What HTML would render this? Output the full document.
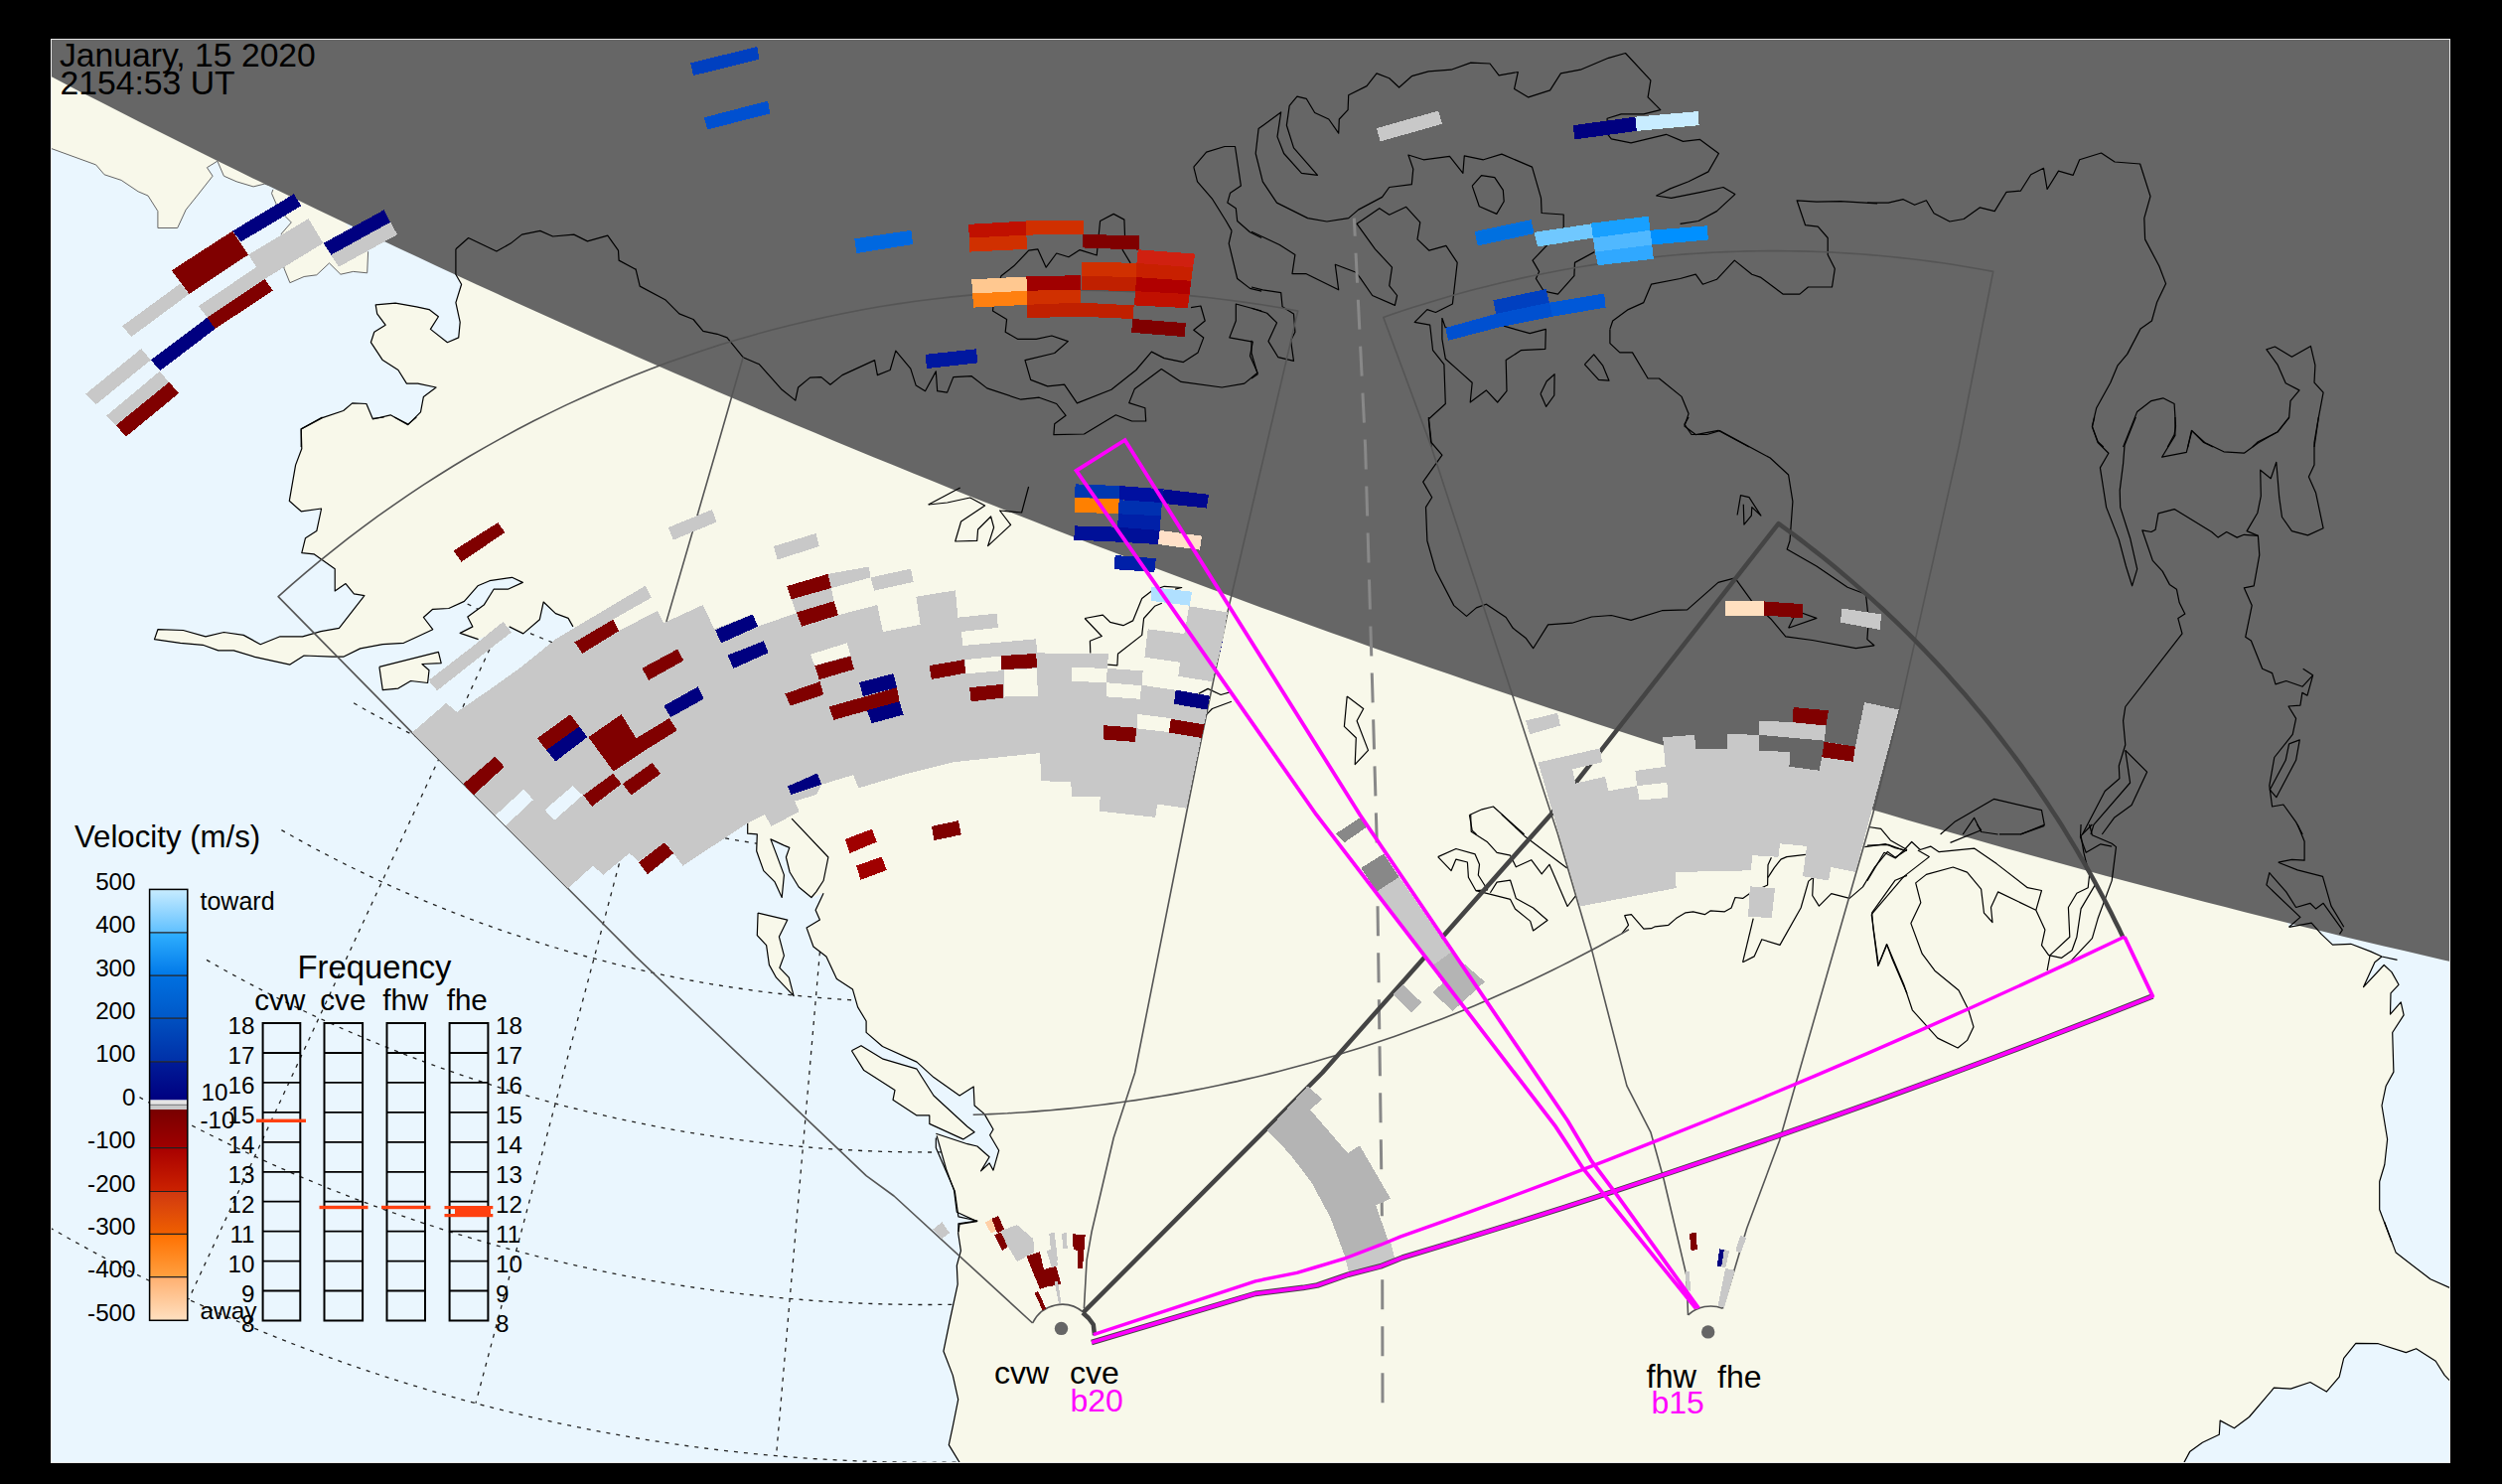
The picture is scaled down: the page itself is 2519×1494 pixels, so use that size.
<!DOCTYPE html>
<html><head><meta charset="utf-8"><style>
html,body{margin:0;padding:0;background:#000;width:2519px;height:1494px;overflow:hidden}
svg{display:block}
text{font-family:"Liberation Sans",sans-serif}
</style></head><body>
<svg xmlns="http://www.w3.org/2000/svg" width="2519" height="1494" viewBox="0 0 2519 1494">
<defs><clipPath id="mc"><rect x="51" y="39" width="2416" height="1434"/></clipPath></defs>
<rect width="2519" height="1494" fill="#000"/>
<rect x="51" y="39" width="2416" height="1434" fill="#fff"/>
<g clip-path="url(#mc)">
<rect x="52" y="40" width="2414" height="1432" fill="#eaf6fe"/>
<g fill="none" stroke="#222" stroke-width="1.3" stroke-dasharray="4 6">
<polyline points="461.8,603.4 463.0,604.0 464.2,604.7 465.4,605.3 466.6,605.9 467.8,606.5 469.0,607.1 470.2,607.8 471.4,608.4 472.7,609.0 473.9,609.6 475.1,610.2 476.3,610.8 477.5,611.4 478.7,612.1 479.9,612.7 481.2,613.3 482.4,613.9 483.6,614.5 484.8,615.1 486.0,615.7 487.2,616.3 488.5,616.9 489.7,617.5 490.9,618.0 492.1,618.6 493.4,619.2 494.6,619.8 495.8,620.4 497.0,621.0 498.3,621.6 499.5,622.1 500.7,622.7 501.9,623.3 503.2,623.9 504.4,624.4 505.6,625.0 506.9,625.6 508.1,626.2 509.3,626.7 510.6,627.3 511.8,627.9 513.1,628.4 514.3,629.0 515.5,629.5 516.8,630.1 518.0,630.7 519.2,631.2 520.5,631.8 521.7,632.3 523.0,632.9 524.2,633.4 525.5,634.0 526.7,634.5 527.9,635.0 529.2,635.6 530.4,636.1 531.7,636.7 532.9,637.2 534.2,637.7 535.4,638.3 536.7,638.8 537.9,639.3 539.2,639.8 540.4,640.4 541.7,640.9 542.9,641.4 544.2,641.9 545.5,642.5 546.7,643.0 548.0,643.5 549.2,644.0 550.5,644.5 551.7,645.0 553.0,645.5 554.3,646.0 555.5,646.6 556.8,647.1 558.0,647.6 559.3,648.1 560.6,648.6"/>
<polyline points="356.1,707.8 360.9,710.5 365.7,713.3 370.5,715.9 375.3,718.6 380.1,721.2 385.0,723.8 389.8,726.4 394.7,729.0 399.6,731.6 404.5,734.1 409.4,736.6 414.3,739.1 419.2,741.5 424.2,743.9 429.1,746.3 434.1,748.7 439.0,751.1 444.0,753.4 449.0,755.7 454.0,758.0 459.0,760.3 464.1,762.5 469.1,764.7 474.2,766.9 479.2,769.1 484.3,771.2 489.4,773.4 494.5,775.5 499.6,777.5 504.7,779.6 509.8,781.6 514.9,783.6 520.0,785.6 525.2,787.5 530.4,789.5 535.5,791.4 540.7,793.2 545.9,795.1 551.1,796.9 556.3,798.7 561.5,800.5 566.7,802.3 571.9,804.0 577.1,805.7 582.4,807.4 587.6,809.0 592.9,810.7 598.2,812.3 603.4,813.8 608.7,815.4 614.0,816.9 619.3,818.4 624.6,819.9 629.9,821.4 635.2,822.8 640.5,824.2 645.9,825.6 651.2,826.9 656.5,828.3 661.9,829.6 667.2,830.8 672.6,832.1 678.0,833.3 683.3,834.5 688.7,835.7 694.1,836.9 699.5,838.0 704.9,839.1 710.3,840.2 715.7,841.2 721.1,842.2 726.5,843.2 731.9,844.2 737.3,845.2 742.8,846.1 748.2,847.0 753.6,847.8 759.1,848.7 764.5,849.5 770.0,850.3"/>
<polyline points="283.4,835.6 290.1,839.4 296.8,843.2 303.6,846.9 310.3,850.6 317.1,854.3 323.9,857.9 330.8,861.5 337.6,865.0 344.5,868.5 351.4,872.0 358.3,875.4 365.3,878.7 372.2,882.1 379.2,885.4 386.2,888.6 393.2,891.8 400.2,895.0 407.3,898.1 414.3,901.2 421.4,904.3 428.5,907.3 435.6,910.2 442.8,913.1 449.9,916.0 457.1,918.8 464.3,921.6 471.5,924.4 478.7,927.1 486.0,929.8 493.2,932.4 500.5,935.0 507.8,937.5 515.1,940.0 522.4,942.4 529.7,944.8 537.0,947.2 544.4,949.5 551.8,951.8 559.2,954.0 566.5,956.2 574.0,958.4 581.4,960.5 588.8,962.5 596.3,964.5 603.7,966.5 611.2,968.4 618.7,970.3 626.1,972.2 633.6,974.0 641.2,975.7 648.7,977.4 656.2,979.1 663.7,980.7 671.3,982.3 678.9,983.8 686.4,985.3 694.0,986.7 701.6,988.1 709.2,989.5 716.8,990.8 724.4,992.0 732.0,993.2 739.6,994.4 747.3,995.5 754.9,996.6 762.5,997.7 770.2,998.6 777.8,999.6 785.5,1000.5 793.2,1001.3 800.8,1002.2 808.5,1002.9 816.2,1003.6 823.9,1004.3 831.5,1004.9 839.2,1005.5 846.9,1006.1 854.6,1006.6 862.3,1007.0 870.0,1007.4"/>
<polyline points="208.0,966.4 216.5,971.2 224.9,976.0 233.4,980.7 241.9,985.3 250.5,989.9 259.1,994.4 267.7,998.8 276.3,1003.2 285.0,1007.6 293.7,1011.9 302.4,1016.1 311.2,1020.3 320.0,1024.4 328.8,1028.4 337.6,1032.4 346.5,1036.4 355.4,1040.2 364.3,1044.0 373.2,1047.8 382.2,1051.5 391.2,1055.1 400.2,1058.7 409.2,1062.2 418.3,1065.7 427.4,1069.1 436.5,1072.4 445.6,1075.7 454.8,1078.9 463.9,1082.1 473.1,1085.2 482.3,1088.2 491.6,1091.2 500.8,1094.1 510.1,1097.0 519.4,1099.7 528.7,1102.5 538.0,1105.1 547.4,1107.7 556.7,1110.3 566.1,1112.8 575.5,1115.2 584.9,1117.5 594.3,1119.8 603.8,1122.0 613.2,1124.2 622.7,1126.3 632.2,1128.4 641.7,1130.3 651.2,1132.2 660.7,1134.1 670.2,1135.9 679.8,1137.6 689.3,1139.3 698.9,1140.9 708.5,1142.4 718.0,1143.9 727.6,1145.3 737.2,1146.6 746.9,1147.9 756.5,1149.1 766.1,1150.3 775.7,1151.3 785.4,1152.4 795.0,1153.3 804.7,1154.2 814.4,1155.0 824.0,1155.8 833.7,1156.5 843.4,1157.2 853.1,1157.7 862.7,1158.2 872.4,1158.7 882.1,1159.1 891.8,1159.4 901.5,1159.6 911.2,1159.8 920.9,1159.9 930.6,1160.0 940.3,1160.0 950.0,1159.9"/>
<polyline points="140.5,1104.6 149.9,1109.9 159.4,1115.1 168.9,1120.3 178.4,1125.4 188.0,1130.4 197.6,1135.4 207.2,1140.3 216.9,1145.1 226.6,1149.9 236.4,1154.6 246.1,1159.3 255.9,1163.9 265.8,1168.4 275.6,1172.8 285.5,1177.2 295.4,1181.6 305.4,1185.8 315.4,1190.0 325.4,1194.1 335.4,1198.2 345.5,1202.1 355.6,1206.1 365.7,1209.9 375.8,1213.7 386.0,1217.4 396.2,1221.0 406.4,1224.6 416.6,1228.1 426.9,1231.6 437.2,1234.9 447.5,1238.2 457.8,1241.5 468.1,1244.6 478.5,1247.7 488.9,1250.8 499.3,1253.7 509.7,1256.6 520.2,1259.4 530.7,1262.1 541.2,1264.8 551.7,1267.4 562.2,1270.0 572.7,1272.4 583.3,1274.8 593.8,1277.1 604.4,1279.4 615.0,1281.6 625.6,1283.7 636.3,1285.7 646.9,1287.7 657.6,1289.6 668.2,1291.4 678.9,1293.1 689.6,1294.8 700.3,1296.4 711.0,1297.9 721.7,1299.4 732.5,1300.8 743.2,1302.1 753.9,1303.4 764.7,1304.5 775.5,1305.6 786.2,1306.7 797.0,1307.6 807.8,1308.5 818.6,1309.3 829.4,1310.1 840.2,1310.7 851.0,1311.3 861.8,1311.9 872.6,1312.3 883.4,1312.7 894.3,1313.0 905.1,1313.2 915.9,1313.4 926.7,1313.5 937.5,1313.5 948.4,1313.4 959.2,1313.3 970.0,1313.1"/>
<polyline points="50.1,1235.9 60.6,1241.8 71.1,1247.8 81.7,1253.6 92.3,1259.4 102.9,1265.1 113.6,1270.7 124.3,1276.3 135.1,1281.8 145.9,1287.2 156.7,1292.5 167.6,1297.8 178.5,1303.0 189.5,1308.1 200.5,1313.1 211.5,1318.1 222.5,1323.0 233.6,1327.8 244.7,1332.6 255.8,1337.2 267.0,1341.8 278.2,1346.3 289.5,1350.8 300.7,1355.1 312.0,1359.4 323.4,1363.6 334.7,1367.7 346.1,1371.8 357.5,1375.7 368.9,1379.6 380.4,1383.5 391.9,1387.2 403.4,1390.9 414.9,1394.4 426.5,1397.9 438.1,1401.4 449.7,1404.7 461.3,1408.0 473.0,1411.2 484.7,1414.3 496.4,1417.3 508.1,1420.2 519.8,1423.1 531.6,1425.9 543.3,1428.6 555.1,1431.2 566.9,1433.8 578.8,1436.2 590.6,1438.6 602.5,1440.9 614.3,1443.1 626.2,1445.3 638.1,1447.3 650.1,1449.3 662.0,1451.2 673.9,1453.0 685.9,1454.8 697.8,1456.4 709.8,1458.0 721.8,1459.5 733.8,1460.9 745.8,1462.2 757.8,1463.5 769.9,1464.6 781.9,1465.7 793.9,1466.7 806.0,1467.6 818.0,1468.5 830.1,1469.2 842.2,1469.9 854.2,1470.5 866.3,1471.0 878.4,1471.4 890.4,1471.8 902.5,1472.0 914.6,1472.2 926.7,1472.3 938.8,1472.3 950.8,1472.2 962.9,1472.1 975.0,1471.8"/>
<polyline points="492.9,653.7 189.8,1308.3"/>
<polyline points="626.0,859.7 478.9,1412.7"/>
<polyline points="825.4,958.3 781.5,1465.7"/>
</g>
<polygon points="458.9,250.8 458.9,276.2 464.6,286.2 458.9,304.6 463.2,324.4 461.7,339.9 450.4,344.7 433.4,331.4 441.4,318.7 432.0,311.6 419.3,308.8 398.1,305.1 378.2,306.8 379.7,315.9 388.1,327.2 376.8,334.3 373.4,344.7 385.3,362.6 400.9,372.5 409.4,386.1 420.7,386.1 439.1,390.0 426.4,399.4 423.5,414.9 410.8,427.7 393.2,417.8 375.4,422.0 368.9,406.5 354.7,405.9 345.7,413.5 324.5,420.6 303.2,431.9 303.8,451.7 297.6,468.1 291.3,504.3 303.2,514.8 323.6,512.0 318.8,534.6 307.5,541.7 303.8,556.7 316.0,557.8 337.2,572.8 337.2,594.9 348.0,587.6 356.4,597.8 366.9,599.7 341.4,632.3 323.0,635.7 304.6,640.8 282.0,640.8 262.2,648.7 245.2,639.4 225.4,636.5 207.0,640.8 184.4,634.5 158.9,633.7 155.5,643.6 181.5,647.3 204.2,649.3 219.7,654.9 235.3,654.9 256.5,661.4 291.9,669.1 306.1,660.0 334.4,661.2 345.7,661.2 362.7,652.9 385.3,648.7 406.5,647.3 420.7,640.8 435.7,633.7 426.4,621.5 435.7,613.3 451.8,612.5 467.4,605.4 481.0,589.8 492.9,584.7 515.5,581.3 526.3,586.4 511.3,593.2 497.1,593.2 487.2,609.1 470.8,621.0 475.9,630.9 463.2,637.4 481.6,643.6 512.7,630.9 526.8,637.9 543.3,623.8 547.2,606.0 559.4,617.6 572.1,622.4 576.9,630.9 700.0,700.0 752.7,800.0 752.7,828.5 752.7,839.2 762.3,839.8 761.7,856.8 768.8,876.6 780.1,887.9 787.2,903.5 789.4,880.9 781.5,859.6 775.9,844.9 789.4,851.1 794.8,853.4 791.4,863.0 795.1,878.0 804.2,893.0 816.9,903.5 829.1,899.3 821.1,916.2 825.4,926.1 812.1,934.1 818.9,953.0 831.9,962.9 842.4,985.6 858.5,996.1 863.6,1013.9 872.1,1028.0 872.1,1039.4 888.5,1053.5 923.0,1069.1 940.0,1084.6 966.1,1103.0 980.2,1094.0 981.1,1113.0 991.0,1121.4 1000.0,1137.0 996.6,1142.7 1005.7,1158.2 1000.0,1178.1 996.1,1171.0 987.6,1178.9 996.1,1164.7 983.9,1154.0 974.0,1151.7 942.3,1141.3 943.1,1143.3 952.6,1177.0 960.6,1198.6 963.3,1220.2 983.6,1229.6 966.0,1232.3 964.7,1241.7 967.4,1259.2 963.3,1274.1 964.2,1292.9 956.6,1328.0 949.9,1360.3 959.3,1384.6 964.7,1408.8 959.3,1435.8 955.3,1454.6 966.8,1473.5 966.8,1480.0 2198.7,1480.0 2198.7,1472.8 2204.6,1461.6 2217.4,1452.3 2234.3,1444.3 2235.2,1430.1 2249.4,1437.8 2264.5,1426.5 2289.4,1397.2 2306.3,1398.1 2325.9,1391.5 2342.3,1401.1 2355.2,1386.2 2359.7,1367.3 2371.8,1352.4 2394.4,1352.7 2422.3,1361.6 2432.6,1357.7 2452.2,1370.2 2461.1,1384.4 2466.9,1390.4 2480.0,1390.4 2480.0,1296.7 2466.9,1296.7 2446.9,1287.8 2412.2,1261.1 2407.9,1250.0 2395.7,1217.8 2395.7,1189.5 2400.8,1172.5 2403.6,1147.0 2398.0,1113.0 2402.2,1093.2 2409.9,1079.1 2408.7,1039.5 2420.1,1021.9 2417.2,1008.9 2406.5,1021.1 2407.0,999.8 2415.0,991.3 2407.9,978.6 2400.2,971.5 2379.6,993.6 2390.9,968.7 2398.0,963.0 2386.7,957.9 2366.8,950.3 2348.4,951.1 2337.1,940.4 2327.2,929.1 2304.6,933.3 2290.0,900.0 2290.0,30.0 458.9,30.0" fill="#f8f8ea"/>
<polygon points="51.3,149.4 96.6,165.9 105.1,175.8 122.1,181.4 139.1,192.8 149.0,197.0 158.9,212.6 158.9,229.5 178.7,229.5 187.2,211.1 198.5,197.0 214.1,177.2 208.4,168.7 218.9,162.2 225.4,177.2 238.1,182.8 255.1,187.9 266.4,185.1 277.8,188.5 290.0,150.0 290.0,30.0 40.0,30.0 40.0,149.4" fill="#f8f8ea"/>
<polygon points="274.9,190.8 273.5,194.7 280.6,211.1 293.3,223.9 283.4,235.2 283.4,256.4 286.2,270.6 291.9,284.7 306.1,278.5 318.8,276.8 331.5,264.9 342.9,276.2 355.6,273.4 369.7,274.8 370.6,253.6 365.5,247.9 330.0,200.0" fill="#f8f8ea"/>
<polygon points="381.9,671.3 441.4,656.3 444.2,667.7 424.9,668.5 432.0,674.7 430.6,687.5 413.6,685.5 400.9,693.1 385.3,694.6" fill="#f8f8ea"/>
<polygon points="763.1,919.1 792.8,926.1 784.4,943.1 789.4,962.1 784.9,974.3 794.3,984.2 799.1,1002.6 781.5,984.2 774.4,971.4 771.6,951.6 762.3,941.7" fill="#f8f8ea"/>
<polygon points="857.4,1057.8 867.0,1052.7 889.1,1066.2 923.0,1076.2 940.0,1103.0 974.0,1134.2 981.1,1139.8 969.7,1146.9 935.8,1131.4 935.8,1122.9 923.0,1122.9 899.0,1107.3 901.0,1097.4 869.8,1077.6" fill="#f8f8ea"/>
<polygon points="40.0,30.0 2480.0,30.0 2480.0,970.9 2460.0,966.4 2440.0,961.8 2420.0,957.1 2400.0,952.4 2380.0,947.7 2360.0,942.9 2340.0,938.1 2320.0,933.2 2300.0,928.2 2280.0,923.2 2260.0,918.2 2240.0,913.1 2220.0,908.0 2200.0,902.8 2180.0,897.6 2160.0,892.3 2140.0,887.0 2120.0,881.7 2100.0,876.3 2080.0,870.8 2060.0,865.3 2040.0,859.7 2020.0,854.2 2000.0,848.5 1980.0,842.8 1960.0,837.1 1940.0,831.3 1920.0,825.5 1900.0,819.6 1880.0,813.7 1860.0,807.7 1840.0,801.7 1820.0,795.7 1800.0,789.6 1780.0,783.5 1760.0,777.3 1740.0,771.0 1720.0,764.8 1700.0,758.4 1680.0,752.1 1660.0,745.7 1640.0,739.2 1620.0,732.7 1600.0,726.2 1580.0,719.6 1560.0,712.9 1540.0,706.2 1520.0,699.5 1500.0,692.8 1480.0,685.9 1460.0,679.1 1440.0,672.2 1420.0,665.2 1400.0,658.2 1380.0,651.2 1360.0,644.1 1340.0,637.0 1320.0,629.8 1300.0,622.6 1280.0,615.3 1260.0,608.0 1240.0,600.6 1220.0,593.2 1200.0,585.8 1180.0,578.3 1160.0,570.8 1140.0,563.2 1120.0,555.6 1100.0,547.9 1080.0,540.2 1060.0,532.4 1040.0,524.6 1020.0,516.7 1000.0,508.8 980.0,500.9 960.0,492.9 940.0,484.8 920.0,476.7 900.0,468.6 880.0,460.4 860.0,452.2 840.0,443.9 820.0,435.5 800.0,427.2 780.0,418.7 760.0,410.3 740.0,401.7 720.0,393.2 700.0,384.5 680.0,375.9 660.0,367.2 640.0,358.4 620.0,349.6 600.0,340.7 580.0,331.8 560.0,322.8 540.0,313.8 520.0,304.7 500.0,295.6 480.0,286.4 460.0,277.2 440.0,267.9 420.0,258.6 400.0,249.2 380.0,239.8 360.0,230.3 340.0,220.8 320.0,211.2 300.0,201.5 280.0,191.8 260.0,182.1 240.0,172.3 220.0,162.4 200.0,152.5 180.0,142.5 160.0,132.5 140.0,122.4 120.0,112.3 100.0,102.1 80.0,91.9 60.0,81.5 40.0,71.2" fill="#666666"/>
<g fill="none" stroke="#000" stroke-width="1.2" stroke-linejoin="round">
<polyline points="51.3,149.4 96.6,165.9 105.1,175.8 122.1,181.4 139.1,192.8 149.0,197.0 158.9,212.6 158.9,229.5 178.7,229.5 187.2,211.1 198.5,197.0 214.1,177.2 208.4,168.7 218.9,162.2 225.4,177.2 238.1,182.8 255.1,187.9 266.4,185.1 277.8,188.5" stroke="#666" stroke-width="1"/>
<polyline points="274.9,190.8 273.5,194.7 280.6,211.1 293.3,223.9 283.4,235.2 283.4,256.4 286.2,270.6 291.9,284.7 306.1,278.5 318.8,276.8 331.5,264.9 342.9,276.2 355.6,273.4 369.7,274.8 370.6,253.6 365.5,247.9" stroke="#666" stroke-width="1"/>
<polyline points="458.9,250.8 458.9,276.2 464.6,286.2 458.9,304.6 463.2,324.4 461.7,339.9 450.4,344.7 433.4,331.4 441.4,318.7 432.0,311.6 419.3,308.8 398.1,305.1 378.2,306.8 379.7,315.9 388.1,327.2 376.8,334.3 373.4,344.7 385.3,362.6 400.9,372.5 409.4,386.1 420.7,386.1 439.1,390.0 426.4,399.4 423.5,414.9 410.8,427.7 393.2,417.8 375.4,422.0 368.9,406.5 354.7,405.9 345.7,413.5 324.5,420.6 303.2,431.9 303.2,450.0"/>
<polyline points="458.9,250.8 471.6,239.5 499.9,253.0 514.1,245.1 525.4,236.1 543.8,232.4 556.6,238.0 577.8,236.1 591.4,242.9 611.8,237.2 622.5,252.2 623.1,262.1 640.1,271.2"/>
<polyline points="640.0,270.6 644.2,288.1 669.7,301.7 683.9,315.9 698.0,321.5 707.9,333.4 722.1,336.3 732.0,339.9 748.1,359.7 764.5,366.8 775.9,379.6 787.2,392.3 800.8,403.1 803.6,390.0 815.5,380.1 826.8,379.6 835.9,387.2 848.0,377.6 880.6,362.6 883.4,377.6 896.2,372.5 901.8,353.2 916.8,371.1 922.2,388.1 931.5,393.7 942.3,373.9 943.7,393.7 953.6,395.1 959.8,379.6 978.2,378.7 993.8,390.9 1027.8,402.2 1046.2,400.2 1063.7,406.5 1073.1,418.3 1061.7,426.8 1060.9,437.6 1091.5,437.0 1123.4,417.8 1139.6,424.0 1153.7,424.0 1152.9,410.7 1136.7,405.6 1142.4,391.4 1169.3,371.6 1189.1,384.4 1230.2,390.0 1252.8,386.1 1266.1,375.3 1258.5,358.3 1261.3,344.2 1237.8,339.9 1244.3,323.0 1244.3,306.0 1270.1,313.0"/>
<polyline points="1199.0,309.6 1208.9,308.0 1213.2,323.0 1201.8,332.3 1211.8,339.9 1206.1,354.9 1191.4,364.6 1172.1,360.6 1159.4,354.1 1143.8,372.5 1118.9,392.3 1084.4,405.9 1071.6,387.2 1054.7,388.9 1037.7,382.4 1032.0,362.6 1061.7,355.5 1075.3,343.6 1058.9,338.0 1043.3,341.4 1024.9,341.4 1012.2,334.3 1013.6,321.5 999.5,313.0 1000.9,301.7 1008.0,277.7 1020.7,267.8 1035.7,252.2 1044.8,250.8 1053.2,269.2 1063.7,255.0 1075.9,258.7 1087.2,251.6 1104.2,257.0 1107.6,222.5 1121.2,215.4 1131.9,221.1 1132.5,236.6 1130.2,251.6 1138.2,264.9"/>
<polyline points="1201.8,168.1 1214.6,153.1 1233.0,147.5 1243.5,147.5 1249.4,187.1 1238.6,194.2 1235.8,204.1 1244.3,209.7 1245.7,222.5 1258.5,233.8 1270.1,239.5"/>
<polyline points="1240.1,232.4 1237.2,245.1 1245.7,280.5 1258.5,290.4 1270.1,293.2"/>
<polyline points="1691.6,225.3 1710.0,222.5 1728.4,212.6 1746.8,195.6 1735.0,188.5 1711.5,193.6 1682.6,199.3 1667.6,197.0 1681.7,189.9 1700.1,182.8 1719.9,172.9 1730.4,154.5 1711.5,140.4 1694.5,142.4 1677.5,135.3 1642.1,143.8 1622.3,139.8 1618.1,134.7 1618.1,119.2 1632.2,114.9 1654.8,114.9 1671.8,110.7 1659.1,97.9 1661.9,80.9 1636.5,53.5 1619.5,58.3 1591.2,70.2 1571.4,73.9 1560.6,90.9 1538.8,97.9 1524.6,89.4 1528.3,72.5 1509.1,75.9 1500.0,64.0 1480.8,63.1 1461.0,70.2 1438.3,71.9 1421.3,76.7 1408.6,88.0 1398.7,78.7 1386.0,73.9 1376.0,86.6 1357.7,95.7 1357.1,110.7 1348.3,120.0 1347.7,134.2 1337.8,120.0 1323.7,113.5 1315.2,99.3 1305.9,97.1 1298.2,106.4 1295.4,126.2 1302.5,148.9 1326.5,176.3 1310.4,174.4 1292.6,154.5 1286.0,137.6 1289.7,112.9 1267.1,129.6 1264.2,154.5 1271.3,182.8 1285.5,204.1 1316.6,219.6 1335.9,223.0 1357.7,219.6 1367.6,211.1 1391.6,198.4 1398.7,188.5 1421.3,185.7 1422.8,170.1 1417.9,156.0 1433.2,160.8 1459.5,157.4 1472.9,174.4 1474.3,156.8 1493.5,160.8 1511.9,155.1 1542.5,168.1 1551.5,199.3 1552.1,214.5 1574.2,216.0 1574.2,233.2 1563.4,240.9 1543.0,262.1 1549.6,273.4 1546.4,280.5 1554.4,293.2 1568.5,296.1 1584.9,277.7 1585.5,264.4 1605.3,253.6"/>
<polyline points="1260.0,233.2 1288.3,246.5 1303.9,256.4 1301.0,275.7 1315.2,275.7 1347.7,291.8 1344.3,266.3 1364.7,274.0 1369.0,279.1 1381.7,297.5 1404.4,307.4 1406.6,297.5 1398.7,287.6 1401.5,269.2 1384.5,250.8 1366.1,225.3 1388.8,209.7 1398.7,216.2 1415.7,208.3 1429.8,223.9 1427.0,240.9 1438.9,252.2 1455.9,247.4 1467.2,264.4 1462.4,306.0 1445.4,314.5 1436.9,311.6 1424.2,324.4 1439.7,327.2 1442.6,352.7 1453.9,366.8 1455.3,406.5 1438.3,422.0 1441.1,450.0"/>
<polyline points="1482.2,187.1 1491.5,176.6 1504.8,178.6 1513.3,191.3 1514.2,202.7 1506.8,215.4 1489.3,207.8 1482.2,187.1"/>
<polyline points="1260.0,289.0 1271.3,291.8 1289.7,294.6 1291.1,308.8 1302.5,315.9 1303.9,334.3 1299.6,342.8 1302.5,363.4 1286.9,359.7 1277.0,343.6 1285.5,324.9 1275.6,315.3 1260.0,310.2"/>
<polyline points="1260.0,342.8 1260.0,355.5 1266.2,376.7 1260.0,381.0"/>
<polyline points="1595.4,366.8 1604.7,356.9 1613.8,368.2 1620.0,383.2 1609.6,382.4 1595.4,366.8"/>
<polyline points="1551.0,396.5 1557.2,383.8 1565.1,376.7 1564.8,398.0 1556.6,409.3 1551.0,396.5"/>
<polyline points="1451.9,320.1 1455.3,330.0 1510.5,327.2 1540.2,335.7 1556.3,331.4 1555.8,351.3 1531.2,352.7 1516.2,362.6 1517.0,393.7 1507.7,405.0 1496.3,392.9 1480.2,405.0 1482.2,385.2 1469.5,373.9 1455.3,361.2 1451.9,341.4 1451.9,320.1"/>
<polyline points="1620.9,331.4 1623.7,323.0 1639.3,311.6 1654.8,304.6 1662.5,286.2 1691.6,280.5 1707.2,276.2 1714.3,286.2 1728.4,281.3 1746.3,262.1 1763.8,276.2 1772.3,279.1 1795.0,296.1 1811.9,296.1 1820.4,289.0 1844.5,289.0 1847.3,270.6 1840.2,256.4 1840.2,239.5 1830.3,228.1 1817.6,226.7 1809.1,201.8 1828.9,203.2 1853.0,202.7 1890.1,204.9"/>
<polyline points="1620.9,331.4 1620.9,345.6 1630.8,354.9 1643.5,354.9 1659.1,381.0 1670.4,381.0 1693.1,399.4 1700.1,416.4 1695.9,429.1 1707.2,437.6 1729.9,433.3 1761.0,450.0"/>
<polyline points="1880.0,204.1 1901.2,204.1 1916.2,200.7 1927.6,206.3 1939.4,201.8 1947.1,214.8 1962.9,223.0 1977.1,220.5 1993.2,208.9 2008.2,212.6 2020.1,193.3 2034.3,192.2 2044.7,175.8 2057.5,169.3 2061.1,190.5 2072.5,172.1 2087.2,176.3 2093.7,160.8 2115.5,154.0 2129.1,163.0 2154.6,165.0 2165.0,197.6 2158.8,219.6 2159.6,240.9 2173.8,267.8 2180.6,285.6 2171.5,304.6 2166.4,323.0 2155.1,330.9 2141.8,356.4 2131.9,368.2 2124.8,385.2 2110.7,410.7 2106.4,429.1 2112.1,444.7 2117.8,450.0"/>
<polyline points="2137.6,450.0 2151.7,414.4 2165.9,403.6 2177.8,400.8 2189.1,406.5 2190.5,429.1 2189.1,437.6 2182.3,450.0"/>
<polyline points="2202.7,450.0 2206.4,433.3 2218.2,445.2 2228.1,450.0"/>
<polyline points="2267.8,450.0 2273.4,444.7 2293.2,434.8 2304.6,420.6 2306.0,403.6 2315.0,392.9 2301.2,385.8 2293.2,367.4 2281.9,351.8 2290.4,349.0 2307.4,359.2 2326.4,348.4 2330.9,367.7 2330.0,385.2 2339.1,395.1 2334.3,420.6 2330.0,450.0"/>
<polyline points="324.5,420.0 303.2,431.9 303.8,451.7 297.6,468.1 291.3,504.3 303.2,514.8 323.6,512.0 318.8,534.6 307.5,541.7 303.8,556.7 316.0,557.8 337.2,572.8 337.2,594.9 348.0,587.6 356.4,597.8 366.9,599.7 341.4,632.3 323.0,635.7 304.6,640.8 282.0,640.8 262.2,648.7 245.2,639.4 225.4,636.5 207.0,640.8 184.4,634.5 158.9,633.7 155.5,643.6 181.5,647.3 204.2,649.3 219.7,654.9 235.3,654.9 256.5,661.4 291.9,669.1 306.1,660.0 334.4,661.2 345.7,661.2 362.7,652.9 385.3,648.7 406.5,647.3 420.7,640.8 435.7,633.7 426.4,621.5 435.7,613.3 451.8,612.5 467.4,605.4 481.0,589.8 492.9,584.7 515.5,581.3 526.3,586.4 511.3,593.2 497.1,593.2 487.2,609.1 470.8,621.0 475.9,630.9 463.2,637.4 481.6,643.6"/>
<polyline points="512.7,630.9 526.8,637.9 543.3,623.8 547.2,606.0 559.4,617.6 572.1,622.4 576.9,630.9"/>
<polyline points="381.9,671.3 441.4,656.3 444.2,667.7 424.9,668.5 432.0,674.7 430.6,687.5 413.6,685.5 400.9,693.1 385.3,694.6 381.9,671.3"/>
<polyline points="375.4,421.4 386.7,420.0"/>
<polyline points="397.2,420.0 410.8,427.1 419.3,420.0"/>
<polyline points="1201.8,168.1 1205.5,182.8 1220.2,199.8 1234.4,222.5 1240.1,232.4"/>
<polyline points="934.7,508.0 953.7,506.0 976.7,501.0 991.6,509.0 967.6,525.0 961.7,545.0 983.7,544.4 984.6,533.0 997.6,520.0 1000.6,531.0 994.6,549.6 1017.6,528.4 1006.6,514.0 1028.6,516.0 1035.6,490.0"/>
<polyline points="934.7,508.0 966.7,491.0"/>
<polyline points="1092.1,622.5 1110.3,619.1 1117.6,626.3 1130.9,629.7 1140.6,624.9 1149.7,602.4 1160.1,594.6 1172.2,590.3 1189.8,591.5 1183.1,593.1"/>
<polyline points="1169.8,607.3 1162.5,610.3 1151.6,622.5 1149.7,639.4 1125.5,658.2 1124.9,669.8 1115.2,669.2"/>
<polyline points="1092.1,622.5 1109.3,640.5 1097.4,645.2 1097.8,657.4"/>
<polyline points="1079.4,673.6 1090.2,679.4 1103.2,677.2 1111.8,672.2"/>
<polyline points="1206.8,698.4 1216.1,693.4 1229.1,699.5 1239.9,696.3"/>
<polyline points="1214.7,719.3 1220.4,713.5 1239.9,706.3"/>
<polyline points="1438.3,420.0 1441.1,445.5 1451.9,458.2 1432.7,485.1 1441.7,500.7 1435.5,510.6 1436.9,544.5 1445.4,574.3 1463.8,609.6 1476.5,620.4 1486.4,611.9 1496.3,608.2 1516.2,621.5 1523.2,632.3 1536.0,642.2 1543.6,652.7 1558.6,628.9 1582.7,627.2 1602.5,621.0 1622.3,619.5 1642.1,624.4 1673.2,614.7 1698.7,613.9 1729.9,586.4 1746.8,581.9 1763.8,605.4 1783.6,623.8 1797.8,640.8 1824.7,644.5 1868.5,652.7 1886.9,649.8 1879.9,643.6 1881.3,623.8 1878.5,598.3 1860.1,591.2 1828.9,570.0 1799.2,553.0 1802.0,544.5 1804.9,504.9 1800.6,478.0 1782.2,461.0 1731.3,433.6 1718.5,437.5 1703.0,437.5 1695.9,427.1 1700.1,420.0"/>
<polyline points="1800.6,632.3 1828.9,622.4 1809.1,615.3 1800.6,632.3"/>
<polyline points="1749.1,518.5 1752.5,498.7 1761.0,500.7 1772.9,519.1 1763.8,510.6 1763.3,519.1 1755.9,528.1 1755.3,507.7"/>
<polyline points="1356.2,701.1 1372.7,713.5 1366.1,725.7 1377.5,755.4 1364.2,769.6 1365.3,742.7 1353.4,731.4 1356.2,701.1"/>
<polyline points="1479.4,820.5 1492.1,814.8 1503.4,812.0 1534.6,840.0"/>
<polyline points="1479.4,820.5 1482.2,836.1 1486.4,840.0"/>
<polyline points="2150.3,420.0 2139.0,448.3 2137.6,466.7 2134.2,493.6 2134.7,510.6 2144.6,541.7 2151.7,572.8 2146.6,589.8 2140.4,570.0 2133.3,543.1 2120.6,510.6 2114.4,470.9 2122.9,456.2 2112.1,445.5 2106.4,429.9 2108.7,420.0"/>
<polyline points="2189.9,420.0 2189.9,438.4 2176.6,460.2 2201.3,455.4 2206.9,433.6 2219.7,445.5 2238.9,454.8 2259.3,456.2 2273.4,446.0 2293.2,434.7 2304.6,420.0"/>
<polyline points="2334.3,420.0 2330.0,445.5 2330.0,468.1 2324.4,480.0 2331.5,495.9 2339.1,531.8 2323.5,538.9 2307.4,534.6 2297.5,520.5 2294.7,500.7 2291.8,465.3 2286.2,481.7 2275.7,473.2 2276.3,499.3 2272.9,516.2 2262.1,534.6 2273.4,539.4 2274.8,558.7 2269.2,589.8 2259.3,591.8 2267.2,609.6 2260.7,641.3 2266.4,645.0 2277.7,673.3 2287.6,677.6 2291.0,688.9 2301.7,685.5 2318.2,691.2 2328.6,679.8 2318.7,673.3"/>
<polyline points="2328.6,679.8 2323.0,700.2 2317.9,697.4 2315.9,710.1 2304.0,711.0 2311.6,723.4 2308.2,739.3 2289.8,762.5 2284.8,790.8 2287.6,812.0 2298.9,810.0 2311.6,827.6 2318.2,840.0"/>
<polyline points="2273.4,539.4 2259.3,538.3 2252.2,541.1 2241.7,535.5 2233.2,541.1 2226.7,535.5 2189.1,512.6 2173.0,516.8 2170.1,533.2 2165.9,535.5 2156.8,533.8 2167.3,564.4 2177.2,575.1 2184.3,588.4 2191.4,593.2 2194.2,606.8 2199.8,618.1 2192.8,622.4 2197.0,637.9 2139.8,711.5 2137.6,725.7 2139.8,749.7 2133.3,771.0 2133.9,783.7 2119.2,796.5 2096.5,840.0"/>
<polyline points="2139.8,755.4 2144.6,788.0 2107.9,830.4 2105.0,840.0"/>
<polyline points="2139.8,755.4 2161.6,777.2 2146.1,810.6 2128.5,823.3 2116.3,840.0"/>
<polyline points="2304.6,748.9 2315.3,744.9 2311.6,765.3 2291.8,802.7 2285.3,795.0 2301.2,765.3 2304.6,748.9"/>
<polyline points="2034.3,840.0 2058.3,830.4 2055.5,815.7 2007.4,804.4 1967.7,827.6 1953.6,840.0"/>
<polyline points="1976.2,840.0 1987.6,823.3 1994.6,837.5 2011.6,840.0"/>
<polyline points="797.1,824.2 833.9,863.0 829.1,886.5 821.7,897.8 816.9,903.5 804.2,893.0 795.1,878.0 791.4,863.0 794.8,853.4 789.4,851.1 775.9,844.9 781.5,859.6 789.4,880.9 787.2,903.5 780.1,887.9 768.8,876.6 761.7,856.8 762.3,839.8 752.7,839.2 752.7,828.5"/>
<polyline points="829.1,899.3 821.1,916.2 825.4,926.1 812.1,934.1 818.9,953.0 831.9,962.9 842.4,985.6 858.5,996.1 863.6,1013.9 872.1,1028.0 872.1,1039.4 888.5,1053.5 923.0,1069.1 940.0,1084.6 966.1,1103.0 980.2,1094.0 981.1,1113.0 991.0,1121.4 1000.0,1137.0 996.6,1142.7 1005.7,1158.2 1000.0,1178.1 996.1,1171.0 987.6,1178.9 996.1,1164.7 983.9,1154.0 974.0,1151.7 942.3,1141.3"/>
<polyline points="942.3,1145.5 942.3,1155.4 951.4,1176.6 961.3,1199.3 964.9,1224.8 983.9,1229.0 964.9,1231.8 964.9,1240.0"/>
<polyline points="763.1,919.1 792.8,926.1 784.4,943.1 789.4,962.1 784.9,974.3 794.3,984.2 799.1,1002.6 781.5,984.2 774.4,971.4 771.6,951.6 762.3,941.7 763.1,919.1"/>
<polyline points="857.4,1057.8 867.0,1052.7 889.1,1066.2 923.0,1076.2 940.0,1103.0 974.0,1134.2 981.1,1139.8 969.7,1146.9 935.8,1131.4 935.8,1122.9 923.0,1122.9 899.0,1107.3 901.0,1097.4 869.8,1077.6 857.4,1057.8"/>
<polyline points="1447.7,862.6 1465.9,854.5 1485.1,859.9 1489.5,870.3 1488.3,881.0 1497.6,895.8 1486.0,896.7 1478.4,883.3 1477.4,868.0 1465.9,865.1 1461.1,876.6 1447.7,862.6"/>
<polyline points="1486.0,896.7 1520.6,905.4 1525.4,915.0 1540.7,927.4 1543.6,937.0 1558.0,926.5 1543.6,914.0 1526.3,904.4 1520.6,886.2 1507.1,888.1 1500.4,898.7"/>
<polyline points="1480.7,820.0 1481.2,837.3 1497.6,847.8 1507.1,858.4 1520.6,861.2 1526.3,872.8 1541.7,865.7 1552.2,879.9 1559.9,870.3 1578.1,912.5 1586.2,902.1"/>
<polyline points="1511.9,820.0 1535.9,842.6 1577.7,874.1"/>
<polyline points="1632.8,939.9 1639.5,931.3 1635.7,921.7 1642.4,920.7 1654.9,935.1 1662.5,934.7 1666.4,932.8 1679.8,931.3 1687.5,924.6 1697.1,918.8 1704.7,917.8 1716.3,920.7 1722.0,916.9 1736.4,917.8 1743.1,914.0 1747.0,903.5 1754.6,904.4 1762.3,899.0 1779.6,891.0 1780.0,870.8 1783.4,863.2"/>
<polyline points="1780.0,883.3 1786.3,873.7 1793.0,865.1 1798.8,862.6 1817.9,860.3"/>
<polyline points="1754.6,968.7 1765.2,924.6"/>
<polyline points="1754.6,968.7 1766.1,962.9 1773.8,945.7 1792.0,951.4 1813.1,914.0 1820.8,887.1 1825.6,883.3"/>
<polyline points="1825.6,883.3 1824.7,901.5 1831.4,912.1 1843.8,899.6 1862.1,904.4 1875.5,892.9 1887.0,873.7 1900.4,857.4 1908.1,863.2 1920.0,855.5"/>
<polyline points="1877.4,852.6 1898.5,849.7 1908.1,853.6 1920.0,856.5"/>
<polyline points="1881.2,832.5 1893.7,834.4 1903.3,845.9 1920.0,855.5"/>
<polyline points="1920.0,881.4 1908.1,886.2 1884.7,918.8 1886.0,935.1 1890.8,972.5 1899.5,950.5 1905.2,965.8 1920.0,1000.3"/>
<polyline points="943.1,1143.3 952.6,1177.0 960.6,1198.6 963.3,1220.2 983.6,1229.6 966.0,1232.3 964.7,1241.7 967.4,1259.2 963.3,1274.1 964.2,1292.9 956.6,1328.0 949.9,1360.3 959.3,1384.6 964.7,1408.8 959.3,1435.8 955.3,1454.6 966.8,1473.5"/>
<polyline points="1880.0,851.2 1901.2,850.4 1916.8,856.0 1924.7,847.5 1933.2,855.5 1943.7,852.1 1952.2,857.7 1987.6,854.1 2010.2,869.6 2041.3,893.7 2055.5,896.5 2049.8,916.3 2058.9,936.1 2055.5,951.7 2062.6,961.6 2075.3,964.4 2086.1,956.8 2090.9,943.2 2095.1,914.9 2109.3,890.9"/>
<polyline points="1884.2,920.6 1891.3,971.5 1899.8,951.1 1916.8,991.3 1925.3,1016.8 1950.8,1045.1 1971.1,1055.0 1980.5,1047.4 1987.0,1033.8 1981.9,1016.8 1972.0,997.0 1947.9,977.2 1935.2,960.2 1923.9,929.6 1933.8,908.7 1928.7,888.9 1939.4,880.4 1966.3,873.0 1980.5,878.1 1994.6,895.1 1997.5,919.2 2006.0,928.5 2004.5,913.5 2011.6,897.9 2049.8,916.3"/>
<polyline points="2061.1,977.2 2064.0,961.6 2083.8,943.2 2082.4,913.5 2090.9,899.3 2102.2,893.7 2103.6,880.9 2097.9,858.3 2095.1,841.3 2106.4,830.0"/>
<polyline points="2083.8,968.7 2106.4,944.6 2112.1,924.8 2126.2,886.6 2130.5,852.6 2126.2,849.2 2106.4,840.8 2103.6,830.0"/>
<polyline points="1880.0,886.6 1897.0,858.3 1908.3,864.0 1916.8,856.0"/>
<polyline points="1884.2,920.6 1916.8,882.4 1942.3,862.6 1930.9,856.0"/>
<polyline points="2304.6,933.3 2327.2,929.1 2337.1,940.4 2348.4,951.1 2366.8,950.3 2386.7,957.9 2398.0,963.0 2413.5,966.4"/>
<polyline points="2398.0,963.0 2390.9,968.7 2379.6,993.6 2400.2,971.5 2407.9,978.6 2415.0,991.3 2407.0,999.8 2406.5,1021.1 2417.2,1008.9 2420.1,1021.9 2408.7,1039.5 2409.9,1079.1 2402.2,1093.2 2398.0,1113.0 2403.6,1147.0 2400.8,1172.5 2395.7,1189.5 2395.7,1217.8 2407.9,1250.0"/>
<polyline points="2304.6,933.3 2315.9,923.4 2281.9,890.9 2284.8,878.7 2301.7,897.9 2311.6,913.5 2325.8,909.3 2331.5,914.9 2339.1,909.3 2358.3,936.1 2355.5,940.4"/>
<polyline points="2293.8,868.2 2313.1,875.9 2338.5,882.4 2347.0,912.1 2359.8,933.3"/>
<polyline points="2293.8,868.2 2307.4,865.4 2320.1,866.2 2320.1,847.0 2313.1,830.0"/>
<polyline points="2013.0,839.9 2034.3,839.9 2058.3,831.4"/>
<polyline points="1963.5,848.4 1994.6,835.7 1990.4,830.0"/>
<polyline points="2095.1,830.0 2094.5,842.7 2100.2,858.3 2114.9,849.8 2126.2,852.1"/>
<polyline points="2400.6,1230.0 2412.2,1261.1 2446.9,1287.8 2466.9,1296.7"/>
<polyline points="2198.7,1472.8 2204.6,1461.6 2217.4,1452.3 2234.3,1444.3 2235.2,1430.1 2249.4,1437.8 2264.5,1426.5 2289.4,1397.2 2306.3,1398.1 2325.9,1391.5 2342.3,1401.1 2355.2,1386.2 2359.7,1367.3 2371.8,1352.4 2394.4,1352.7 2422.3,1361.6 2432.6,1357.7 2452.2,1370.2 2461.1,1384.4 2466.9,1390.4"/>
</g>
<g fill="none" stroke="#555" stroke-width="1.6" stroke-linejoin="round">
<polyline points="1039.6,1332.0 900.0,1204.0 872.1,1183.7 640.0,962.9 571.8,894.5 414.9,737.6 280.1,600.6 293.9,588.4 307.9,576.4 322.0,564.6 336.4,553.1 350.9,541.7 365.5,530.6 380.4,519.7 395.4,509.1 410.6,498.6 425.9,488.4 441.4,478.5 457.0,468.8 472.8,459.3 488.7,450.1 504.8,441.1 521.0,432.3 537.3,423.8 553.8,415.6 570.3,407.6 587.0,399.9 603.9,392.4 620.8,385.2 637.8,378.2 655.0,371.5 672.2,365.1 689.6,358.9 707.0,353.0 724.5,347.3 742.1,342.0 759.8,336.9 777.6,332.0 795.4,327.5 813.3,323.2 831.3,319.2 849.3,315.5 867.4,312.0 885.5,308.8 903.7,305.9 921.9,303.3 940.2,301.0 958.5,298.9 976.8,297.1 995.1,295.6 1013.5,294.4 1031.9,293.4 1050.3,292.8 1068.7,292.4 1087.1,292.3 1105.5,292.5 1123.9,293.0 1142.3,293.7 1160.7,294.7 1179.0,296.0 1197.4,297.6 1215.7,299.5 1234.0,301.7 1252.2,304.1 1270.4,306.8 1288.6,309.8 1306.7,313.1 1263.0,500.0 1235.9,616.4 1206.2,760.0 1194.2,820.0 1142.6,1080.0 1121.2,1145.5 1099.1,1240.0 1094.1,1268.7 1091.4,1317.2"/>
<polyline points="748.1,359.7 722.1,450.0 670.9,625.9 660.0,660.0"/>
<polyline points="1699.5,1323.9 1698.1,1284.9 1675.2,1187.8 1661.9,1139.8 1637.9,1093.1 1602.5,955.9 1568.5,840.0 1441.1,450.0 1392.8,319.5 1402.6,316.1 1412.4,312.8 1422.3,309.6 1432.2,306.5 1442.1,303.4 1452.1,300.5 1462.1,297.6 1472.1,294.8 1482.1,292.1 1492.1,289.5 1502.2,287.0 1512.3,284.5 1522.4,282.2 1532.5,279.9 1542.7,277.8 1552.8,275.7 1563.0,273.7 1573.2,271.8 1583.4,270.0 1593.7,268.2 1603.9,266.6 1614.2,265.1 1624.5,263.6 1634.8,262.2 1645.1,261.0 1655.4,259.8 1665.7,258.7 1676.0,257.7 1686.4,256.8 1696.7,255.9 1707.1,255.2 1717.4,254.6 1727.8,254.0 1738.2,253.6 1748.5,253.2 1758.9,252.9 1769.3,252.7 1779.7,252.6 1790.0,252.6 1800.4,252.7 1810.8,252.9 1821.2,253.1 1831.5,253.5 1841.9,253.9 1852.3,254.5 1862.6,255.1 1873.0,255.8 1883.3,256.6 1893.7,257.5 1904.0,258.5 1914.3,259.6 1924.7,260.8 1935.0,262.0 1945.2,263.4 1955.5,264.8 1965.8,266.3 1976.0,268.0 1986.3,269.7 1996.5,271.5 2006.7,273.4 1972.0,450.0 1912.5,714.4 1885.5,820.0 1791.6,1148.3 1758.8,1236.3 1734.5,1317.2"/>
<polyline points="979.7,1122.3 988.4,1122.0 997.0,1121.6 1005.7,1121.2 1014.3,1120.8 1023.0,1120.2 1031.6,1119.7 1040.2,1119.1 1048.9,1118.4 1057.5,1117.7 1066.1,1116.9 1074.7,1116.1 1083.4,1115.2 1092.0,1114.3 1100.6,1113.3 1109.2,1112.2 1117.8,1111.1 1126.4,1110.0 1134.9,1108.8 1143.5,1107.6 1152.1,1106.3 1160.6,1104.9 1169.2,1103.5 1177.7,1102.1 1186.2,1100.6 1194.8,1099.0 1203.3,1097.4 1211.8,1095.7 1220.3,1094.0 1228.7,1092.2 1237.2,1090.4 1245.7,1088.6 1254.1,1086.6 1262.5,1084.7 1271.0,1082.7 1279.4,1080.6 1287.8,1078.5 1296.1,1076.3 1304.5,1074.1 1312.9,1071.8 1321.2,1069.4 1329.5,1067.1 1337.9,1064.6 1346.1,1062.2 1354.4,1059.6 1362.7,1057.0 1370.9,1054.4 1379.2,1051.7 1387.4,1049.0 1395.6,1046.2 1403.8,1043.4 1412.0,1040.5 1420.1,1037.6 1428.2,1034.6 1436.4,1031.6 1444.4,1028.5 1452.5,1025.4 1460.6,1022.2 1468.6,1019.0 1476.6,1015.7 1484.6,1012.4 1492.6,1009.0 1500.6,1005.6 1508.5,1002.1 1516.4,998.6 1524.3,995.0 1532.2,991.4 1540.0,987.7 1547.9,984.0 1555.7,980.3 1563.4,976.5 1571.2,972.6 1578.9,968.7 1586.6,964.8 1594.3,960.8 1602.0,956.7 1609.6,952.7 1617.2,948.5 1624.8,944.3 1632.4,940.1 1639.9,935.8"/>
<path d="M1039.6,1332 A32.9,32.9 0 0 1 1090.8,1321.2"/>
<path d="M1699.5,1323.9 A33.9,33.9 0 0 1 1734.5,1317.2"/>
</g>
<polyline fill="none" stroke="#888" stroke-width="3" stroke-dasharray="30 17" stroke-dashoffset="11.8" points="1363.3,219.6 1374.6,450.0 1386.0,840.0 1391.6,1240.0 1392.0,1413.5"/>
<polyline fill="none" stroke="#444" stroke-width="4.5" stroke-linejoin="round" points="1090.8,1321.2 1331.3,1080.0 1561.4,820.0 1790.6,527.1 1798.0,532.5 1805.4,537.9 1812.7,543.4 1819.9,549.0 1827.1,554.6 1834.3,560.3 1841.4,566.0 1848.4,571.8 1855.4,577.7 1862.4,583.6 1869.3,589.6 1876.1,595.6 1882.9,601.7 1889.7,607.8 1896.4,614.0 1903.1,620.3 1909.7,626.6 1916.2,633.0 1922.7,639.4 1929.1,645.9 1935.5,652.4 1941.8,659.0 1948.1,665.6 1954.3,672.3 1960.5,679.1 1966.6,685.9 1972.6,692.7 1978.6,699.6 1984.6,706.6 1990.4,713.6 1996.3,720.6 2002.0,727.7 2007.7,734.8 2013.3,742.0 2018.9,749.3 2024.4,756.5 2029.9,763.9 2035.3,771.2 2040.6,778.7 2045.9,786.1 2051.1,793.6 2056.2,801.2 2061.3,808.8 2066.3,816.4 2071.3,824.1 2076.2,831.8 2081.0,839.6 2085.7,847.4 2090.4,855.2 2095.0,863.1 2099.6,871.0 2104.1,878.9 2108.5,886.9 2112.9,895.0 2117.2,903.0 2121.4,911.1 2125.6,919.3 2129.6,927.4 2133.7,935.6 2137.6,943.9"/>
<polyline points="1090,1321.5 1096,1327 1100.8,1333.5 1102,1344.3" fill="none" stroke="#444" stroke-width="4.5" stroke-linejoin="round"/>
<g shape-rendering="crispEdges">
<polygon points="234.1,232.6 295.8,195.3 303.3,207.2 242.6,243.4" fill="#000080"/>
<polygon points="172.8,272.3 234.1,232.6 249.9,256.6 190.4,296.0" fill="#800000"/>
<polygon points="122.9,328.4 181.6,285.5 190.4,296.0 132.5,338.9" fill="#c8c8c8"/>
<polygon points="199.7,308.2 258.1,269.0 250.2,256.3 310.5,220.2 325.4,244.8 266.5,280.9 208.9,319.6" fill="#c8c8c8"/>
<polygon points="325.8,244.8 386.5,211.4 393.1,223.7 333.3,256.7" fill="#000080"/>
<polygon points="333.3,256.7 393.1,223.7 400.1,236.1 341.2,268.6" fill="#c8c8c8"/>
<polygon points="208.7,319.6 266.5,281.1 274.8,292.5 216.6,331.0" fill="#800000"/>
<polygon points="151.8,362.5 208.7,319.6 216.6,331.0 161.5,373.0" fill="#000080"/>
<polygon points="86.1,396.7 142.2,351.1 151.8,362.5 96.6,407.2" fill="#c8c8c8"/>
<polygon points="107.2,418.6 160.6,373.9 170.2,384.8 116.8,428.2" fill="#c8c8c8"/>
<polygon points="116.8,428.2 170.2,384.8 180.2,395.8 126.9,439.6" fill="#800000"/>
<polygon points="695.2,63.4 762.3,47.0 764.5,59.7 698.0,76.1" fill="#0040c0"/>
<polygon points="708.8,118.3 773.0,101.6 775.3,114.3 712.2,130.5" fill="#0050d0"/>
<polygon points="860.2,240.3 917.4,231.8 919.1,246.0 862.5,255.0" fill="#0068e0"/>
<polygon points="931.5,356.9 983.1,351.3 984.2,365.4 933.0,371.1" fill="#0018a0"/>
<polygon points="974.8,225.9 1032.9,222.5 1033.4,236.6 976.0,239.5" fill="#c01000"/>
<polygon points="1032.9,222.5 1090.6,221.6 1091.2,235.8 1033.4,236.6" fill="#d03000"/>
<polygon points="976.0,239.5 1033.4,236.6 1034.0,250.8 976.5,253.6" fill="#d03000"/>
<polygon points="1090.0,235.8 1147.5,237.5 1146.7,251.6 1089.5,249.4" fill="#800000"/>
<polygon points="978.2,281.3 1033.4,278.5 1034.0,292.7 979.1,295.5" fill="#ffc890"/>
<polygon points="979.1,295.5 1034.0,292.7 1034.0,306.8 980.2,309.6" fill="#ff8010"/>
<polygon points="1033.4,278.5 1088.1,277.1 1088.1,291.8 1034.0,292.7" fill="#a00000"/>
<polygon points="1034.0,292.7 1088.1,291.8 1087.8,304.6 1034.0,306.8" fill="#d03000"/>
<polygon points="1034.0,306.8 1087.8,304.6 1087.8,318.7 1034.0,320.1" fill="#c02000"/>
<polygon points="1088.6,263.5 1144.4,264.9 1143.8,279.1 1088.6,277.7" fill="#d03000"/>
<polygon points="1088.6,277.7 1143.8,279.1 1143.3,293.2 1088.6,291.8" fill="#c02000"/>
<polygon points="1087.8,304.6 1141.6,307.4 1141.0,321.0 1087.8,318.7" fill="#c02000"/>
<polygon points="1145.8,251.3 1203.3,255.6 1201.0,269.2 1144.4,264.9" fill="#d02010"/>
<polygon points="1144.4,264.9 1201.0,269.2 1199.3,282.8 1143.8,279.1" fill="#c82000"/>
<polygon points="1143.8,279.1 1199.3,282.8 1197.6,296.1 1143.3,293.2" fill="#b00000"/>
<polygon points="1143.3,293.2 1197.6,296.1 1195.9,310.2 1141.6,307.4" fill="#c01000"/>
<polygon points="1140.4,321.0 1193.9,325.2 1192.5,339.1 1139.0,334.8" fill="#800000"/>
<polygon points="1386.0,129.1 1448.2,111.5 1451.9,124.8 1389.6,142.4" fill="#c8c8c8"/>
<polygon points="1583.5,126.2 1646.4,117.7 1647.8,131.9 1585.5,140.4" fill="#000080"/>
<polygon points="1646.4,117.7 1709.5,112.1 1710.6,126.2 1647.8,131.9" fill="#c8ecff"/>
<polygon points="1484.5,233.2 1541.6,221.1 1544.5,235.2 1487.9,247.4" fill="#0070e0"/>
<polygon points="1544.5,233.8 1602.5,225.3 1603.9,239.5 1548.1,248.5" fill="#70c8ff"/>
<polygon points="1601.9,224.7 1659.7,217.7 1661.4,231.8 1603.9,239.5" fill="#18a0ff"/>
<polygon points="1603.9,239.5 1661.4,231.8 1663.3,246.5 1605.9,253.6" fill="#50b8ff"/>
<polygon points="1605.9,253.6 1663.3,246.5 1664.8,260.7 1608.7,267.2" fill="#30a8ff"/>
<polygon points="1661.4,231.8 1718.5,227.3 1719.9,241.4 1663.3,246.5" fill="#0090ff"/>
<polygon points="1503.4,302.3 1556.6,291.0 1560.0,304.6 1506.2,315.9" fill="#0040c0"/>
<polygon points="1506.2,315.9 1560.0,304.6 1562.9,318.7 1509.1,329.5" fill="#0050d0"/>
<polygon points="1455.3,330.0 1506.2,315.9 1509.1,329.5 1458.1,342.8" fill="#0050d0"/>
<polygon points="1560.0,304.6 1615.2,295.5 1616.6,309.6 1562.9,318.7" fill="#0058d8"/>
<polygon points="456.6,554.4 501.4,526.1 508.4,536.0 464.6,565.8" fill="#800000"/>
<polygon points="432.0,684.6 507.0,626.6 515.0,636.5 439.7,694.6" fill="#c8c8c8"/>
<polygon points="414.9,737.6 449.3,707.8 460.0,716.9 491.6,695.2 523.7,672.3 560.0,643.0 649.7,589.7 655.8,601.7 617.2,623.6 623.3,635.1 662.0,614.8 668.2,627.2 707.7,609.0 719.2,633.3 757.9,618.4 763.1,630.7 801.8,617.1 792.1,590.2 833.5,577.9 874.8,570.5 876.6,581.4 917.0,572.6 919.7,585.8 880.1,594.6 876.6,581.4 837.0,592.0 839.6,605.2 844.0,619.2 883.3,609.0 888.9,636.0 926.7,628.9 922.3,600.8 961.9,594.3 964.4,621.7 1003.5,617.6 1004.9,631.8 968.0,636.0 969.1,650.0 1042.9,643.3 1044.5,657.4 1115.8,658.5 1115.0,672.9 1150.6,675.4 1149.9,689.8 1183.7,694.8 1218.3,700.9 1194.5,813.7 1165.2,809.6 1163.2,822.8 1107.2,816.7 1107.6,801.6 1078.9,801.6 1078.3,786.8 1048.5,786.4 1046.9,758.1 960.0,767.2 911.7,779.3 864.3,793.4 859.0,780.2 827.3,789.8 822.0,800.0 800.3,806.5 804.6,817.2 776.5,831.8 770.0,820.0 752.8,828.6 687.5,871.6 670.3,848.7 642.8,867.0 633.7,859.0 607.3,880.7 597.0,871.6 571.8,894.5" fill="#c8c8c8"/>
<polygon points="578.5,646.5 617.2,623.6 623.3,635.1 586.4,657.9" fill="#800000"/>
<polygon points="646.2,672.9 682.2,653.5 688.4,665.0 653.2,684.7" fill="#800000"/>
<polygon points="720.0,634.2 757.9,618.4 763.1,630.7 726.2,647.4" fill="#000080"/>
<polygon points="732.4,659.7 768.9,645.3 773.7,657.1 738.5,672.9" fill="#000080"/>
<polygon points="668.2,710.7 702.5,691.4 708.6,703.7 675.2,722.1" fill="#000080"/>
<polygon points="792.1,590.2 833.5,577.9 837.0,592.0 796.5,603.4" fill="#800000"/>
<polygon points="801.8,616.6 839.6,605.2 844.0,619.2 807.1,630.7" fill="#800000"/>
<polygon points="820.3,670.2 856.3,660.6 859.9,673.8 824.7,684.3" fill="#800000"/>
<polygon points="790.4,698.4 825.6,686.1 829.1,699.3 795.7,710.7" fill="#800000"/>
<polygon points="865.1,687.0 899.4,678.2 903.0,692.2 868.7,701.0" fill="#000080"/>
<polygon points="834.4,711.6 903.0,692.2 905.6,706.3 839.6,724.8" fill="#800000"/>
<polygon points="873.0,715.1 905.6,706.3 909.6,719.5 877.5,728.3" fill="#000080"/>
<polygon points="935.5,670.2 970.7,664.1 972.4,677.6 937.8,684.0" fill="#800000"/>
<polygon points="976.0,692.2 1009.5,688.8 1010.5,702.5 977.7,706.3" fill="#800000"/>
<polygon points="793.0,791.6 822.9,778.4 827.3,789.8 796.5,800.0" fill="#000080"/>
<polygon points="540.9,743.3 574.1,719.2 583.3,731.4 550.1,755.2" fill="#800000"/>
<polygon points="550.1,755.2 583.3,731.4 591.3,742.1 559.2,766.6" fill="#000080"/>
<polygon points="592.4,742.1 625.7,719.2 640.5,743.3 673.8,723.1 681.8,735.3 648.6,755.9 617.6,776.5 601.6,754.7" fill="#800000"/>
<polygon points="466.4,789.1 498.5,761.6 507.7,771.9 476.7,800.5" fill="#800000"/>
<polygon points="587.4,800.5 617.2,778.8 625.7,789.1 595.9,812.0" fill="#800000"/>
<polygon points="626.8,789.1 656.6,768.0 665.3,778.8 635.5,800.5" fill="#800000"/>
<polygon points="642.8,868.1 669.2,848.2 678.3,859.0 652.0,880.3" fill="#800000"/>
<polygon points="456.6,554.4 501.4,526.1 508.4,536.0 464.6,565.8" fill="#800000"/>
<polygon points="432.1,686.0 506.5,626.0 514.5,636.7 440.1,695.2" fill="#c8c8c8"/>
<polygon points="1007.5,660.1 1042.9,658.0 1044.5,672.2 1008.5,674.2" fill="#800000"/>
<polygon points="1111.2,730.2 1144.4,732.8 1142.9,747.0 1110.6,744.4" fill="#800000"/>
<polygon points="1177.9,723.7 1212.7,729.4 1209.6,743.0 1176.7,737.5" fill="#800000"/>
<polygon points="1158.8,590.9 1200.1,595.8 1197.7,609.7 1158.8,604.9" fill="#b0e0ff"/>
<polygon points="1193.4,638.2 1231.0,644.3 1228.0,658.8 1191.0,652.8" fill="#000080"/>
<polygon points="1183.7,694.6 1218.3,700.7 1215.3,714.6 1181.9,708.6" fill="#000080"/>
<polygon points="672.9,531.0 716.9,513.0 721.5,525.6 677.9,543.6" fill="#c8c8c8"/>
<polygon points="778.8,550.0 821.4,537.0 824.8,550.0 782.8,563.5" fill="#c8c8c8"/>
<polygon points="1155.7,633.3 1192.4,638.0 1197.1,610.3 1235.9,616.4 1230.9,644.8 1227.6,658.8 1220.4,686.2 1186.3,680.8 1188.1,666.8 1152.4,661.7" fill="#c8c8c8"/>
<polygon points="1082.6,487.4 1127.1,489.0 1126.7,501.9 1082.2,501.1" fill="#0038b0"/>
<polygon points="1082.2,501.1 1126.7,502.3 1125.9,516.9 1081.8,516.1" fill="#ff8000"/>
<polygon points="1127.1,489.0 1171.6,492.5 1170.0,506.0 1127.1,503.2" fill="#0010a0"/>
<polygon points="1171.6,492.5 1216.9,497.9 1214.9,511.6 1170.4,506.8" fill="#000890"/>
<polygon points="1126.7,503.2 1170.0,506.0 1168.8,519.3 1125.9,517.3" fill="#0030b0"/>
<polygon points="1125.9,517.3 1168.8,519.3 1167.6,533.9 1125.1,531.9" fill="#0020a8"/>
<polygon points="1081.8,529.4 1125.1,530.7 1167.6,533.9 1165.9,548.0 1124.7,545.6 1081.4,543.6" fill="#001098"/>
<polygon points="1167.6,533.9 1210.0,539.6 1208.0,553.7 1165.9,548.0" fill="#ffe0c8"/>
<polygon points="1122.7,559.0 1163.9,562.2 1162.3,575.9 1121.5,573.1" fill="#0020a8"/>
<polygon points="1548.6,767.6 1611.0,753.3 1613.0,767.3 1583.2,774.4 1586.0,788.7 1616.0,781.9 1619.4,796.3 1648.1,791.2 1646.4,776.0 1676.7,771.8 1674.2,742.3 1706.2,739.8 1707.0,754.1 1738.7,754.1 1738.7,739.0 1771.1,739.8 1771.4,725.5 1804.8,727.2 1805.6,712.0 1841.0,715.4 1838.4,730.5 1836.8,746.6 1867.9,751.6 1877.2,707.0 1911.7,714.5 1867.9,878.0 1843.5,872.9 1841.0,886.4 1814.9,882.2 1819.1,851.9 1792.1,849.3 1790.4,862.8 1764.0,861.1 1763.0,876.3 1686.8,878.0 1687.6,894.0 1590.8,912.5" fill="#c8c8c8"/>
<polygon points="1805.6,712.0 1841.0,715.4 1838.4,730.5 1804.8,727.2" fill="#800000"/>
<polygon points="1835.1,746.6 1867.9,751.6 1865.7,766.8 1833.4,762.2" fill="#800000"/>
<polygon points="1536.0,725.5 1568.0,717.9 1570.9,730.5 1540.2,739.3" fill="#c8c8c8"/>
<polygon points="1761.8,892.3 1787.1,894.3 1783.7,924.3 1760.1,922.6" fill="#c8c8c8"/>
<polygon points="1736.9,605.4 1775.7,605.4 1775.7,619.5 1737.5,620.1" fill="#ffe0c0"/>
<polygon points="1775.7,605.4 1815.3,608.2 1815.3,622.4 1775.7,619.5" fill="#800000"/>
<polygon points="1880.0,616.7 1894.2,618.1 1892.7,632.3 1880.0,630.0" fill="#c8c8c8"/>
<polygon points="1854.4,612.5 1894.2,618.5 1892.7,634.0 1853.0,626.6" fill="#c8c8c8"/>
<polygon points="850.9,844.9 877.8,834.7 882.9,847.5 855.7,859.1" fill="#a00000"/>
<polygon points="862.2,871.5 887.7,862.5 892.8,876.0 866.4,885.9" fill="#a00000"/>
<polygon points="937.8,831.9 964.9,826.2 967.8,840.4 940.6,846.0" fill="#800000"/>
<polygon points="1344.9,839.2 1369.0,823.4 1376.0,832.7 1353.4,848.3" fill="#888888"/>
<polygon points="1370.4,873.8 1393.0,859.6 1408.6,882.8 1386.0,897.8" fill="#888888"/>
<polygon points="1386.0,897.8 1408.6,882.8 1461.0,958.7 1441.2,972.8" fill="#c8c8c8"/>
<polygon points="1441.1,972.8 1461.0,958.7 1494.9,988.4 1462.4,1018.1 1442.6,998.9 1452.5,989.8" fill="#b4b4b4"/>
<polygon points="1402.9,1001.1 1412.8,991.2 1431.2,1009.1 1420.8,1019.5" fill="#b4b4b4"/>
<polygon points="939.1,1237.7 948.5,1230.4 956.1,1241.2 948.0,1247.1" fill="#c8c8c8"/>
<polygon points="991.6,1230.9 998.4,1226.9 1003.8,1239.0 997.6,1241.2" fill="#ffd0a8"/>
<polygon points="998.4,1226.9 1005.1,1224.2 1011.9,1239.0 1003.8,1241.2" fill="#800000"/>
<polygon points="1001.1,1243.1 1007.8,1240.4 1014.6,1255.2 1009.2,1259.2" fill="#800000"/>
<polygon points="1007.8,1239.0 1024.0,1233.1 1040.2,1247.1 1041.5,1260.6 1024.0,1270.0 1013.2,1252.5" fill="#c8c8c8"/>
<polygon points="1033.4,1264.6 1046.9,1260.1 1050.9,1278.1 1063.1,1274.6 1068.5,1292.9 1053.6,1295.6 1046.9,1297.8" fill="#800000"/>
<polygon points="1053.6,1259.2 1061.7,1256.5 1065.0,1274.1 1059.0,1276.2" fill="#c8c8c8"/>
<polygon points="1056.3,1241.7 1061.7,1241.2 1065.0,1268.7 1059.0,1268.7" fill="#c8c8c8"/>
<polygon points="1069.3,1241.7 1073.9,1241.2 1074.7,1257.4 1069.8,1257.4" fill="#c8c8c8"/>
<polygon points="1061.7,1290.2 1065.0,1290.2 1068.5,1311.8 1065.8,1311.8" fill="#c8c8c8"/>
<polygon points="1080.1,1242.3 1092.7,1243.1 1090.0,1276.8 1084.6,1276.8 1085.4,1259.2 1080.6,1257.9" fill="#800000"/>
<polygon points="1041.5,1301.6 1045.0,1299.7 1053.1,1317.2 1049.6,1319.1" fill="#800000"/>
<polygon points="1276.0,1138.0 1316.4,1093.5 1331.3,1106.4 1319.1,1117.2 1356.9,1160.9 1369.0,1153.3 1400.0,1206.7 1385.2,1213.4 1404.6,1268.7 1358.2,1282.2 1355.5,1268.7 1339.4,1225.6 1320.5,1190.5 1298.9,1162.2" fill="#b4b4b4"/>
<polygon points="1354.2,1266.0 1400.0,1250.4 1404.6,1268.7 1358.2,1282.2" fill="#c8c8c8"/>
<polygon points="1700.8,1241.7 1707.5,1241.2 1708.9,1257.9 1702.7,1259.2" fill="#800000"/>
<polygon points="1731.3,1257.4 1735.8,1257.9 1733.2,1275.4 1728.6,1274.6" fill="#000080"/>
<polygon points="1735.8,1257.9 1741.2,1259.2 1737.2,1276.2 1733.2,1275.4" fill="#c8c8c8"/>
<polygon points="1752.0,1243.9 1758.2,1245.8 1752.8,1261.1 1747.4,1259.2" fill="#c8c8c8"/>
<polygon points="1737.2,1276.8 1746.6,1278.9 1735.8,1316.7 1729.6,1314.5" fill="#c8c8c8"/>
<polygon points="1696.8,1279.5 1700.8,1280.0 1702.2,1299.7 1698.1,1298.9" fill="#c8c8c8"/>
<polygon points="498.5,821.2 527.1,794.8 537.0,805.1 508.8,831.5" fill="#eaf6fe"/>
<polygon points="548.5,815.4 576.4,791.4 586.7,800.5 558.1,825.8" fill="#eaf6fe"/>
<polygon points="815.9,658.8 852.8,647.4 856.3,659.7 820.3,670.2" fill="#f8f8ea"/>
<polygon points="1145.5,718.9 1178.9,723.1 1177.0,737.1 1144.9,733.4" fill="#f8f8ea"/>
<polygon points="972.1,664.1 1007.5,660.6 1008.5,675.2 972.5,678.3" fill="#f8f8ea"/>
<polygon points="1010.5,674.2 1043.9,673.2 1044.9,700.5 1011.5,701.5" fill="#f8f8ea"/>
<polygon points="1079.1,671.8 1114.7,672.9 1114.0,687.3 1079.4,685.8" fill="#f8f8ea"/>
<polygon points="1114.3,687.3 1148.8,690.1 1148.1,703.8 1113.6,701.3" fill="#f8f8ea"/>
<polygon points="1771.1,739.8 1836.8,745.7 1834.2,762.2 1831.7,775.7 1801.4,771.8 1802.2,757.2 1771.1,755.5" fill="#666666"/>
<polygon points="1648.1,791.2 1678.4,787.8 1679.2,803.0 1650.6,805.5" fill="#f8f8ea"/>
</g>
<polyline fill="none" stroke="#444" stroke-width="5.6" stroke-linejoin="round" points="1099.0,1351.5 1263.9,1302.4 1311.8,1296.4 1326.2,1294.0 1357.4,1283.2 1390.0,1274.8 1412.1,1266.0 1466.1,1249.6 1520.0,1232.9 1574.0,1215.8 1627.9,1198.3 1681.8,1180.4 1735.8,1162.2 1789.7,1143.6 1843.7,1124.6 1897.6,1105.3 1951.5,1085.6 2005.5,1065.5 2059.4,1045.0 2113.4,1024.2 2167.3,1002.9"/>
<polyline fill="none" stroke="#ff00ff" stroke-width="3.8" stroke-linejoin="round" points="1099.0,1351.5 1263.9,1302.4 1311.8,1296.4 1326.2,1294.0 1357.4,1283.2 1390.0,1274.8 1412.1,1266.0 1466.1,1249.6 1520.0,1232.9 1574.0,1215.8 1627.9,1198.3 1681.8,1180.4 1735.8,1162.2 1789.7,1143.6 1843.7,1124.6 1897.6,1105.3 1951.5,1085.6 2005.5,1065.5 2059.4,1045.0 2113.4,1024.2 2167.3,1002.9 2139.0,943.2"/>
<polyline fill="none" stroke="#ff00ff" stroke-width="3.4" stroke-linejoin="round" points="1100.8,1343.7 1263.9,1289.8 1305.8,1281.4 1323.8,1276.0 1353.8,1267.0 1390.0,1253.2 1410.3,1244.9 1462.3,1226.3 1514.4,1207.3 1566.4,1187.8 1618.5,1167.8 1670.5,1147.4 1722.6,1126.5 1774.6,1105.2 1826.7,1083.4 1878.7,1061.1 1930.8,1038.4 1982.8,1015.2 2034.9,991.6 2086.9,967.6 2139.0,943.0"/>
<polyline fill="none" stroke="#ff00ff" stroke-width="3.8" stroke-linejoin="miter" points="1707.5,1317.2 1672.5,1274.1 1594.3,1177.0 1566.0,1133.9 1325.1,820.0 1083.6,473.9 1132.6,443.0 1369.0,820.0 1578.4,1128.5 1602.4,1169.0 1626.7,1201.3 1710.2,1317.2"/>
<circle cx="1068.5" cy="1337.4" r="6.7" fill="#666"/>
<circle cx="1719.7" cy="1340.9" r="6.7" fill="#666"/>
</g>
<rect x="51.5" y="39.5" width="2415" height="1433" fill="none" stroke="#e8e8e8" stroke-width="1"/>
<text x="60" y="67" font-size="33.7" font-family="Liberation Sans, sans-serif" fill="#000">January, 15 2020</text>
<text x="60.5" y="95" font-size="33.7" font-family="Liberation Sans, sans-serif" fill="#000">2154:53 UT</text>
<text x="75" y="852.5" font-size="31.2" font-family="Liberation Sans, sans-serif" fill="#000">Velocity (m/s)</text>
<defs>
<linearGradient id="cg0" x1="0" y1="0" x2="0" y2="1"><stop offset="0" stop-color="#c8ecff"/><stop offset="1" stop-color="#60c0ff"/></linearGradient>
<linearGradient id="cg1" x1="0" y1="0" x2="0" y2="1"><stop offset="0" stop-color="#30b0ff"/><stop offset="1" stop-color="#0078e8"/></linearGradient>
<linearGradient id="cg2" x1="0" y1="0" x2="0" y2="1"><stop offset="0" stop-color="#0070e0"/><stop offset="1" stop-color="#0058c8"/></linearGradient>
<linearGradient id="cg3" x1="0" y1="0" x2="0" y2="1"><stop offset="0" stop-color="#0050c0"/><stop offset="1" stop-color="#0030a8"/></linearGradient>
<linearGradient id="cg4" x1="0" y1="0" x2="0" y2="1"><stop offset="0" stop-color="#001c98"/><stop offset="1" stop-color="#000080"/></linearGradient>
<linearGradient id="cg5" x1="0" y1="0" x2="0" y2="1"><stop offset="0" stop-color="#780000"/><stop offset="1" stop-color="#a00000"/></linearGradient>
<linearGradient id="cg6" x1="0" y1="0" x2="0" y2="1"><stop offset="0" stop-color="#a80000"/><stop offset="1" stop-color="#cc2200"/></linearGradient>
<linearGradient id="cg7" x1="0" y1="0" x2="0" y2="1"><stop offset="0" stop-color="#d03810"/><stop offset="1" stop-color="#f06000"/></linearGradient>
<linearGradient id="cg8" x1="0" y1="0" x2="0" y2="1"><stop offset="0" stop-color="#ff7000"/><stop offset="1" stop-color="#ffa040"/></linearGradient>
<linearGradient id="cg9" x1="0" y1="0" x2="0" y2="1"><stop offset="0" stop-color="#ffb070"/><stop offset="1" stop-color="#ffe0c0"/></linearGradient>
</defs>
<rect x="150.6" y="895.4" width="38.2" height="43.4" fill="url(#cg0)"/>
<rect x="150.6" y="938.8" width="38.2" height="43.3" fill="url(#cg1)"/>
<rect x="150.6" y="982.1" width="38.2" height="43.1" fill="url(#cg2)"/>
<rect x="150.6" y="1025.2" width="38.2" height="43.6" fill="url(#cg3)"/>
<rect x="150.6" y="1068.8" width="38.2" height="38.7" fill="url(#cg4)"/>
<rect x="150.6" y="1117.0" width="38.2" height="38.7" fill="url(#cg5)"/>
<rect x="150.6" y="1155.7" width="38.2" height="43.8" fill="url(#cg6)"/>
<rect x="150.6" y="1199.5" width="38.2" height="42.9" fill="url(#cg7)"/>
<rect x="150.6" y="1242.4" width="38.2" height="43.3" fill="url(#cg8)"/>
<rect x="150.6" y="1285.7" width="38.2" height="43.6" fill="url(#cg9)"/>
<rect x="150.6" y="1107.5" width="38.2" height="4.6" fill="#e4e4e4"/>
<rect x="150.6" y="1112.6" width="38.2" height="4.4" fill="#c8c8c8"/>
<line x1="150.6" x2="188.8" y1="938.8" y2="938.8" stroke="#222" stroke-width="1.2"/>
<line x1="150.6" x2="188.8" y1="982.1" y2="982.1" stroke="#222" stroke-width="1.2"/>
<line x1="150.6" x2="188.8" y1="1025.2" y2="1025.2" stroke="#222" stroke-width="1.2"/>
<line x1="150.6" x2="188.8" y1="1068.8" y2="1068.8" stroke="#222" stroke-width="1.2"/>
<line x1="150.6" x2="188.8" y1="1112.3" y2="1112.3" stroke="#555" stroke-width="0.8"/>
<line x1="150.6" x2="188.8" y1="1155.7" y2="1155.7" stroke="#222" stroke-width="1.2"/>
<line x1="150.6" x2="188.8" y1="1199.5" y2="1199.5" stroke="#222" stroke-width="1.2"/>
<line x1="150.6" x2="188.8" y1="1242.4" y2="1242.4" stroke="#222" stroke-width="1.2"/>
<line x1="150.6" x2="188.8" y1="1285.7" y2="1285.7" stroke="#222" stroke-width="1.2"/>
<rect x="150.6" y="895.4" width="38.2" height="433.9" fill="none" stroke="#000" stroke-width="1.5"/>
<text x="136.5" y="895.9" font-size="24.2" text-anchor="end" font-family="Liberation Sans, sans-serif" fill="#000">500</text>
<text x="136.5" y="939.3" font-size="24.2" text-anchor="end" font-family="Liberation Sans, sans-serif" fill="#000">400</text>
<text x="136.5" y="982.6" font-size="24.2" text-anchor="end" font-family="Liberation Sans, sans-serif" fill="#000">300</text>
<text x="136.5" y="1025.7" font-size="24.2" text-anchor="end" font-family="Liberation Sans, sans-serif" fill="#000">200</text>
<text x="136.5" y="1069.3" font-size="24.2" text-anchor="end" font-family="Liberation Sans, sans-serif" fill="#000">100</text>
<text x="136.5" y="1112.9" font-size="24.2" text-anchor="end" font-family="Liberation Sans, sans-serif" fill="#000">0</text>
<text x="136.5" y="1156.2" font-size="24.2" text-anchor="end" font-family="Liberation Sans, sans-serif" fill="#000">-100</text>
<text x="136.5" y="1200.0" font-size="24.2" text-anchor="end" font-family="Liberation Sans, sans-serif" fill="#000">-200</text>
<text x="136.5" y="1242.9" font-size="24.2" text-anchor="end" font-family="Liberation Sans, sans-serif" fill="#000">-300</text>
<text x="136.5" y="1286.2" font-size="24.2" text-anchor="end" font-family="Liberation Sans, sans-serif" fill="#000">-400</text>
<text x="136.5" y="1329.8" font-size="24.2" text-anchor="end" font-family="Liberation Sans, sans-serif" fill="#000">-500</text>
<text x="201.5" y="916.1" font-size="25" font-family="Liberation Sans, sans-serif" fill="#000">toward</text>
<text x="201.5" y="1328.3" font-size="24.4" font-family="Liberation Sans, sans-serif" fill="#000">away</text>
<text x="202.5" y="1107.5" font-size="24.2" font-family="Liberation Sans, sans-serif" fill="#000">10</text>
<text x="201.5" y="1136.4" font-size="24.2" font-family="Liberation Sans, sans-serif" fill="#000">-10</text>
<text x="299.5" y="984.7" font-size="32.8" font-family="Liberation Sans, sans-serif" fill="#000">Frequency</text>
<text x="256.3" y="1016.8" font-size="29.6" font-family="Liberation Sans, sans-serif" fill="#000">cvw</text>
<text x="322.3" y="1016.8" font-size="29.6" font-family="Liberation Sans, sans-serif" fill="#000">cve</text>
<text x="385.2" y="1016.8" font-size="29.6" font-family="Liberation Sans, sans-serif" fill="#000">fhw</text>
<text x="449.7" y="1016.8" font-size="29.6" font-family="Liberation Sans, sans-serif" fill="#000">fhe</text>
<rect x="264.6" y="1030.0" width="37.7" height="299.5" fill="none" stroke="#000" stroke-width="2"/>
<line x1="264.6" x2="302.3" y1="1060.0" y2="1060.0" stroke="#000" stroke-width="1.8"/>
<line x1="264.6" x2="302.3" y1="1089.9" y2="1089.9" stroke="#000" stroke-width="1.8"/>
<line x1="264.6" x2="302.3" y1="1119.8" y2="1119.8" stroke="#000" stroke-width="1.8"/>
<line x1="264.6" x2="302.3" y1="1149.8" y2="1149.8" stroke="#000" stroke-width="1.8"/>
<line x1="264.6" x2="302.3" y1="1179.8" y2="1179.8" stroke="#000" stroke-width="1.8"/>
<line x1="264.6" x2="302.3" y1="1209.7" y2="1209.7" stroke="#000" stroke-width="1.8"/>
<line x1="264.6" x2="302.3" y1="1239.7" y2="1239.7" stroke="#000" stroke-width="1.8"/>
<line x1="264.6" x2="302.3" y1="1269.6" y2="1269.6" stroke="#000" stroke-width="1.8"/>
<line x1="264.6" x2="302.3" y1="1299.5" y2="1299.5" stroke="#000" stroke-width="1.8"/>
<rect x="326.5" y="1030.0" width="38.6" height="299.5" fill="none" stroke="#000" stroke-width="2"/>
<line x1="326.5" x2="365.1" y1="1060.0" y2="1060.0" stroke="#000" stroke-width="1.8"/>
<line x1="326.5" x2="365.1" y1="1089.9" y2="1089.9" stroke="#000" stroke-width="1.8"/>
<line x1="326.5" x2="365.1" y1="1119.8" y2="1119.8" stroke="#000" stroke-width="1.8"/>
<line x1="326.5" x2="365.1" y1="1149.8" y2="1149.8" stroke="#000" stroke-width="1.8"/>
<line x1="326.5" x2="365.1" y1="1179.8" y2="1179.8" stroke="#000" stroke-width="1.8"/>
<line x1="326.5" x2="365.1" y1="1209.7" y2="1209.7" stroke="#000" stroke-width="1.8"/>
<line x1="326.5" x2="365.1" y1="1239.7" y2="1239.7" stroke="#000" stroke-width="1.8"/>
<line x1="326.5" x2="365.1" y1="1269.6" y2="1269.6" stroke="#000" stroke-width="1.8"/>
<line x1="326.5" x2="365.1" y1="1299.5" y2="1299.5" stroke="#000" stroke-width="1.8"/>
<rect x="389.5" y="1030.0" width="38.5" height="299.5" fill="none" stroke="#000" stroke-width="2"/>
<line x1="389.5" x2="428.0" y1="1060.0" y2="1060.0" stroke="#000" stroke-width="1.8"/>
<line x1="389.5" x2="428.0" y1="1089.9" y2="1089.9" stroke="#000" stroke-width="1.8"/>
<line x1="389.5" x2="428.0" y1="1119.8" y2="1119.8" stroke="#000" stroke-width="1.8"/>
<line x1="389.5" x2="428.0" y1="1149.8" y2="1149.8" stroke="#000" stroke-width="1.8"/>
<line x1="389.5" x2="428.0" y1="1179.8" y2="1179.8" stroke="#000" stroke-width="1.8"/>
<line x1="389.5" x2="428.0" y1="1209.7" y2="1209.7" stroke="#000" stroke-width="1.8"/>
<line x1="389.5" x2="428.0" y1="1239.7" y2="1239.7" stroke="#000" stroke-width="1.8"/>
<line x1="389.5" x2="428.0" y1="1269.6" y2="1269.6" stroke="#000" stroke-width="1.8"/>
<line x1="389.5" x2="428.0" y1="1299.5" y2="1299.5" stroke="#000" stroke-width="1.8"/>
<rect x="452.6" y="1030.0" width="38.8" height="299.5" fill="none" stroke="#000" stroke-width="2"/>
<line x1="452.6" x2="491.4" y1="1060.0" y2="1060.0" stroke="#000" stroke-width="1.8"/>
<line x1="452.6" x2="491.4" y1="1089.9" y2="1089.9" stroke="#000" stroke-width="1.8"/>
<line x1="452.6" x2="491.4" y1="1119.8" y2="1119.8" stroke="#000" stroke-width="1.8"/>
<line x1="452.6" x2="491.4" y1="1149.8" y2="1149.8" stroke="#000" stroke-width="1.8"/>
<line x1="452.6" x2="491.4" y1="1179.8" y2="1179.8" stroke="#000" stroke-width="1.8"/>
<line x1="452.6" x2="491.4" y1="1209.7" y2="1209.7" stroke="#000" stroke-width="1.8"/>
<line x1="452.6" x2="491.4" y1="1239.7" y2="1239.7" stroke="#000" stroke-width="1.8"/>
<line x1="452.6" x2="491.4" y1="1269.6" y2="1269.6" stroke="#000" stroke-width="1.8"/>
<line x1="452.6" x2="491.4" y1="1299.5" y2="1299.5" stroke="#000" stroke-width="1.8"/>
<text x="256.5" y="1041.0" font-size="24.2" text-anchor="end" font-family="Liberation Sans, sans-serif" fill="#000">18</text>
<text x="499" y="1041.0" font-size="24.2" font-family="Liberation Sans, sans-serif" fill="#000">18</text>
<text x="256.5" y="1071.0" font-size="24.2" text-anchor="end" font-family="Liberation Sans, sans-serif" fill="#000">17</text>
<text x="499" y="1071.0" font-size="24.2" font-family="Liberation Sans, sans-serif" fill="#000">17</text>
<text x="256.5" y="1100.9" font-size="24.2" text-anchor="end" font-family="Liberation Sans, sans-serif" fill="#000">16</text>
<text x="499" y="1100.9" font-size="24.2" font-family="Liberation Sans, sans-serif" fill="#000">16</text>
<text x="256.5" y="1130.8" font-size="24.2" text-anchor="end" font-family="Liberation Sans, sans-serif" fill="#000">15</text>
<text x="499" y="1130.8" font-size="24.2" font-family="Liberation Sans, sans-serif" fill="#000">15</text>
<text x="256.5" y="1160.8" font-size="24.2" text-anchor="end" font-family="Liberation Sans, sans-serif" fill="#000">14</text>
<text x="499" y="1160.8" font-size="24.2" font-family="Liberation Sans, sans-serif" fill="#000">14</text>
<text x="256.5" y="1190.8" font-size="24.2" text-anchor="end" font-family="Liberation Sans, sans-serif" fill="#000">13</text>
<text x="499" y="1190.8" font-size="24.2" font-family="Liberation Sans, sans-serif" fill="#000">13</text>
<text x="256.5" y="1220.7" font-size="24.2" text-anchor="end" font-family="Liberation Sans, sans-serif" fill="#000">12</text>
<text x="499" y="1220.7" font-size="24.2" font-family="Liberation Sans, sans-serif" fill="#000">12</text>
<text x="256.5" y="1250.7" font-size="24.2" text-anchor="end" font-family="Liberation Sans, sans-serif" fill="#000">11</text>
<text x="499" y="1250.7" font-size="24.2" font-family="Liberation Sans, sans-serif" fill="#000">11</text>
<text x="256.5" y="1280.6" font-size="24.2" text-anchor="end" font-family="Liberation Sans, sans-serif" fill="#000">10</text>
<text x="499" y="1280.6" font-size="24.2" font-family="Liberation Sans, sans-serif" fill="#000">10</text>
<text x="256.5" y="1310.5" font-size="24.2" text-anchor="end" font-family="Liberation Sans, sans-serif" fill="#000">9</text>
<text x="499" y="1310.5" font-size="24.2" font-family="Liberation Sans, sans-serif" fill="#000">9</text>
<text x="256.5" y="1340.5" font-size="24.2" text-anchor="end" font-family="Liberation Sans, sans-serif" fill="#000">8</text>
<text x="499" y="1340.5" font-size="24.2" font-family="Liberation Sans, sans-serif" fill="#000">8</text>
<rect x="258" y="1126.6" width="50" height="3.4" fill="#ff4010"/>
<rect x="321.5" y="1213.8" width="49" height="3.4" fill="#ff4010"/>
<rect x="384" y="1213.8" width="49.4" height="3.4" fill="#ff4010"/>
<rect x="447.5" y="1214" width="48.8" height="3.2" fill="#ff4010"/>
<rect x="447.5" y="1222" width="48.8" height="3.2" fill="#ff4010"/>
<rect x="458" y="1214" width="36" height="11" fill="#ff4010"/>
<text x="1001" y="1392.7" font-size="32" font-family="Liberation Sans, sans-serif" fill="#000">cvw</text>
<text x="1077" y="1392.7" font-size="32" font-family="Liberation Sans, sans-serif" fill="#000">cve</text>
<text x="1077.5" y="1421" font-size="32" font-family="Liberation Sans, sans-serif" fill="#ff00ff">b20</text>
<text x="1657.5" y="1396.7" font-size="32.5" font-family="Liberation Sans, sans-serif" fill="#000">fhw</text>
<text x="1729" y="1396.7" font-size="32" font-family="Liberation Sans, sans-serif" fill="#000">fhe</text>
<text x="1662.5" y="1422.9" font-size="32" font-family="Liberation Sans, sans-serif" fill="#ff00ff">b15</text>
</svg>
</body></html>
